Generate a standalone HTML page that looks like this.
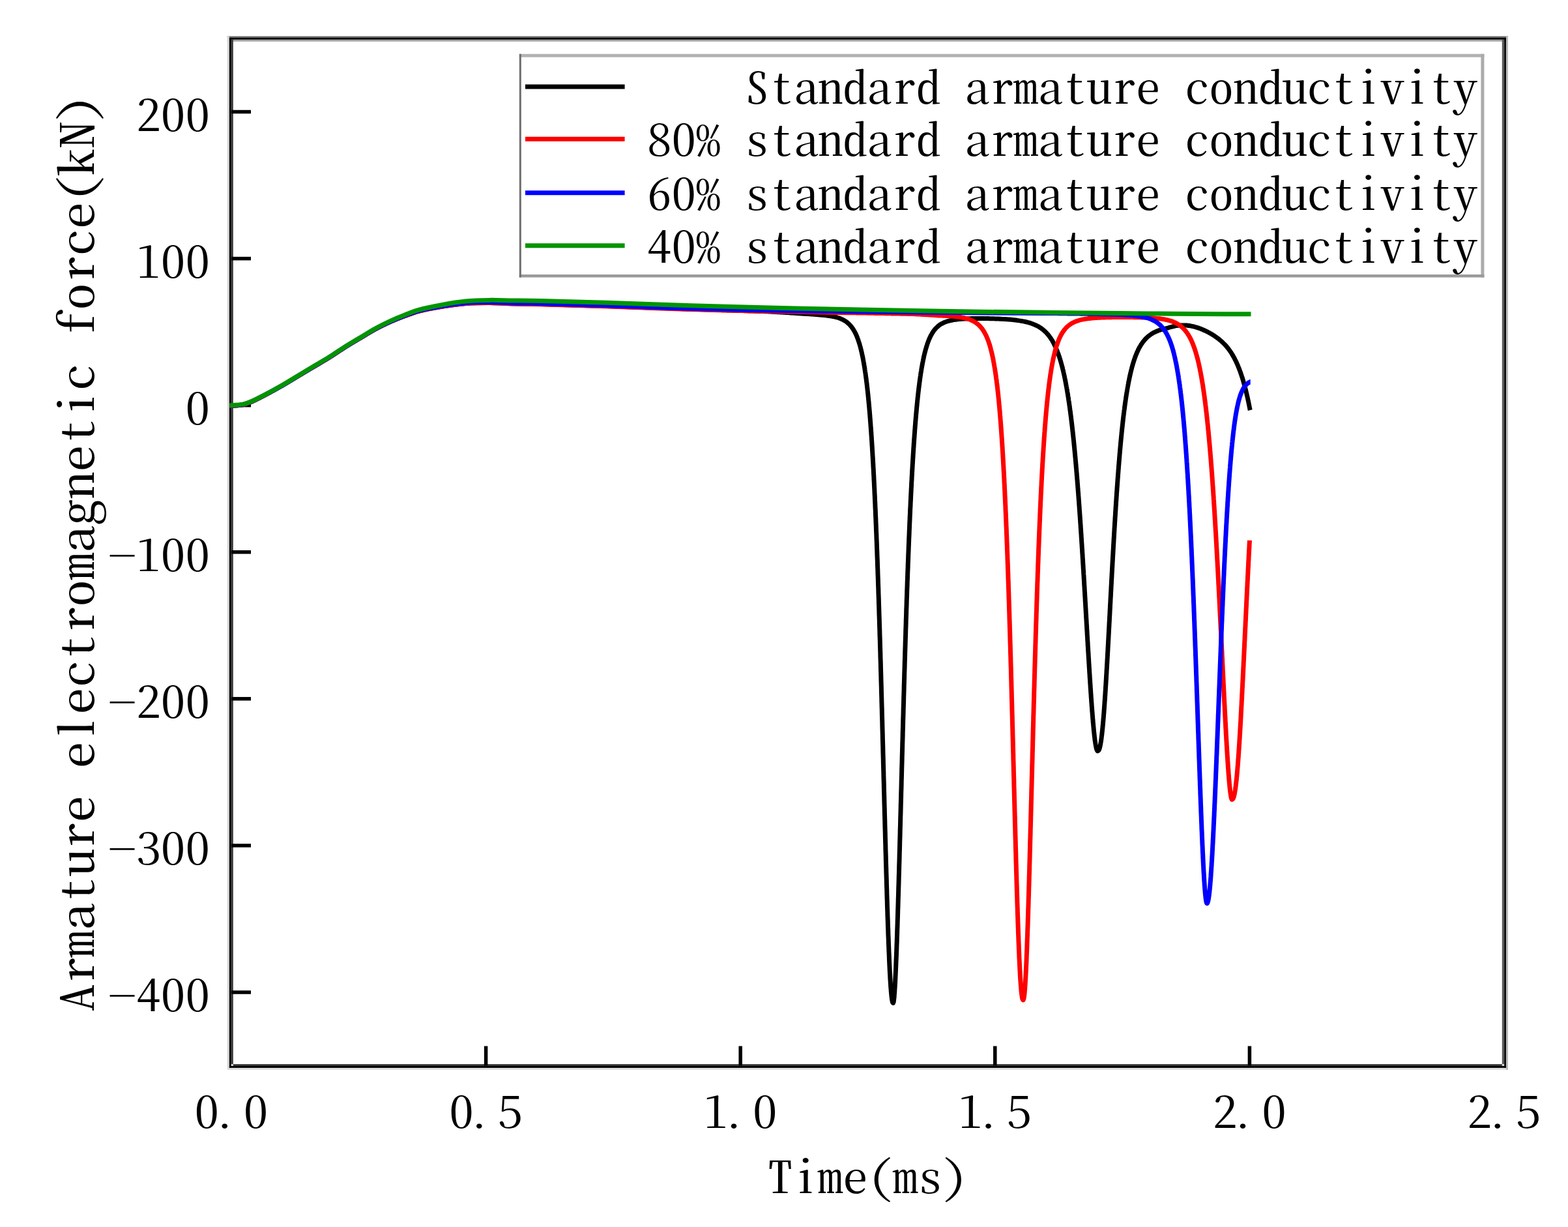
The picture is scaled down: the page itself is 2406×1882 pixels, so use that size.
<!DOCTYPE html>
<html><head><meta charset="utf-8"><title>Armature electromagnetic force</title>
<style>
html,body{margin:0;padding:0;background:#fff;overflow:hidden}
svg{display:block}
text{font-family:'Noto Serif CJK SC', 'Liberation Serif', serif;font-feature-settings:"hwid" 1;fill:#000}
</style></head><body>
<svg width="2406" height="1882" viewBox="0 0 2406 1882">
<rect x="0" y="0" width="2406" height="1882" fill="#fff"/>
<g shape-rendering="auto">
<rect x="348.8" y="55.5" width="1965.2" height="2.4" fill="#6a6a6a"/><rect x="348.8" y="60.7" width="1965.2" height="3.0" fill="#a6a6a6"/><rect x="348.8" y="55.5" width="3.1" height="1585.5" fill="#d6d6d6"/><rect x="354.7" y="60.7" width="3.1" height="1571.7" fill="#3a3a3a"/><rect x="357.8" y="1632.3" width="1947.0" height="2.5" fill="#262626"/><rect x="348.8" y="1637.9" width="1965.2" height="3.1" fill="#dedede"/><rect x="2304.8" y="60.7" width="3.4" height="1571.7" fill="#5a5a5a"/><rect x="2310.9" y="55.5" width="3.1" height="1585.5" fill="#b9b9b9"/>
<rect x="351.9" y="57.9" width="1959.0" height="2.8" fill="#000"/><rect x="351.9" y="57.9" width="2.8" height="1580.0" fill="#000"/><rect x="351.9" y="1634.8" width="1959.0" height="3.1" fill="#000"/><rect x="2308.2" y="57.9" width="2.7" height="1580.0" fill="#000"/>
</g>
<g stroke="#000" fill="none">
<line x1="355.0" y1="1522.0" x2="385.0" y2="1522.0" stroke-width="5.5"/>
<line x1="355.0" y1="1296.9" x2="385.0" y2="1296.9" stroke-width="5.5"/>
<line x1="355.0" y1="1071.8" x2="385.0" y2="1071.8" stroke-width="5.5"/>
<line x1="355.0" y1="846.8" x2="385.0" y2="846.8" stroke-width="5.5"/>
<line x1="355.0" y1="621.7" x2="385.0" y2="621.7" stroke-width="5.5"/>
<line x1="355.0" y1="396.6" x2="385.0" y2="396.6" stroke-width="5.5"/>
<line x1="355.0" y1="171.5" x2="385.0" y2="171.5" stroke-width="5.5"/>
<line x1="745.6" y1="1634.5" x2="745.6" y2="1604.5" stroke-width="5.5"/>
<line x1="1136.2" y1="1634.5" x2="1136.2" y2="1604.5" stroke-width="5.5"/>
<line x1="1526.8" y1="1634.5" x2="1526.8" y2="1604.5" stroke-width="5.5"/>
<line x1="1917.4" y1="1634.5" x2="1917.4" y2="1604.5" stroke-width="5.5"/>
</g>
<g fill="none" stroke-linejoin="round" stroke-linecap="butt" stroke-width="7.0">
<path stroke="#000" d="M352.6,622.4 C353.4,622.4 353.8,622.4 355.0,622.3 C358.3,622.1 368.3,621.7 373.8,620.5 C378.3,619.5 381.1,618.2 385.7,616.3 C392.3,613.5 401.6,608.5 409.5,604.4 C417.5,600.2 425.4,595.8 433.3,591.3 C441.3,586.7 449.2,581.8 457.1,577.0 C465.1,572.2 473.0,567.5 481.0,562.7 C488.9,558.0 496.9,553.4 504.8,548.5 C512.8,543.5 520.6,538.0 528.6,533.0 C536.5,528.1 544.5,523.4 552.4,518.7 C560.3,514.0 568.2,509.0 576.2,504.7 C584.0,500.4 592.4,496.5 600.0,493.1 C606.9,490.1 613.0,487.6 620.0,485.0 C627.4,482.3 634.6,479.4 643.3,477.1 C653.9,474.3 667.1,472.0 679.0,470.1 C690.9,468.1 702.9,466.3 714.8,465.4 C726.7,464.5 738.6,464.4 750.5,464.4 C762.4,464.5 773.7,465.4 786.2,465.7 C800.1,466.1 812.4,466.1 830.0,466.6 C856.6,467.2 894.5,468.3 930.0,469.5 C970.5,470.9 1028.5,473.2 1060.0,474.2 C1077.9,474.8 1097.0,475.3 1102.2,475.5 C1103.5,475.5 1103.7,475.5 1104.5,475.5 C1105.2,475.6 1106.0,475.6 1106.7,475.6 C1107.5,475.6 1108.2,475.6 1109.0,475.7 C1109.7,475.7 1110.5,475.7 1111.2,475.7 C1112.0,475.8 1112.7,475.8 1113.5,475.8 C1114.2,475.8 1115.0,475.9 1115.7,475.9 C1116.5,475.9 1117.2,475.9 1118.0,475.9 C1118.7,476.0 1119.5,476.0 1120.2,476.0 C1121.0,476.0 1121.7,476.1 1122.5,476.1 C1123.2,476.1 1124.0,476.1 1124.7,476.2 C1125.5,476.2 1126.2,476.2 1127.0,476.2 C1127.7,476.3 1128.5,476.3 1129.2,476.3 C1130.0,476.3 1130.7,476.3 1131.5,476.4 C1132.2,476.4 1133.0,476.4 1133.7,476.4 C1134.5,476.5 1135.2,476.5 1136.0,476.5 C1136.7,476.5 1137.5,476.6 1138.2,476.6 C1139.0,476.6 1139.7,476.6 1140.5,476.6 C1141.2,476.7 1142.0,476.7 1142.7,476.7 C1143.5,476.7 1144.2,476.8 1145.0,476.8 C1145.7,476.8 1146.5,476.8 1147.2,476.9 C1148.0,476.9 1148.7,476.9 1149.5,476.9 C1150.2,477.0 1151.0,477.0 1151.7,477.0 C1152.5,477.0 1153.2,477.0 1154.0,477.1 C1154.7,477.1 1155.4,477.1 1156.2,477.1 C1156.9,477.2 1157.7,477.2 1158.4,477.2 C1159.2,477.2 1159.9,477.3 1160.7,477.3 C1161.4,477.3 1162.2,477.3 1162.9,477.4 C1163.7,477.4 1164.4,477.4 1165.2,477.4 C1165.9,477.5 1166.7,477.5 1167.4,477.5 C1168.2,477.5 1168.9,477.6 1169.7,477.6 C1170.4,477.6 1171.2,477.6 1171.9,477.6 C1172.7,477.7 1173.4,477.7 1174.2,477.7 C1174.9,477.7 1175.7,477.8 1176.4,477.8 C1177.2,477.8 1177.9,477.8 1178.7,477.9 C1179.4,477.9 1180.2,477.9 1180.9,478.0 C1181.6,478.0 1182.3,478.0 1182.9,478.1 C1183.6,478.1 1184.3,478.2 1184.9,478.2 C1185.6,478.2 1186.3,478.3 1186.9,478.3 C1187.6,478.4 1188.3,478.4 1188.9,478.4 C1189.6,478.5 1190.2,478.5 1190.9,478.5 C1191.6,478.6 1192.2,478.6 1192.9,478.7 C1193.6,478.7 1194.2,478.7 1194.9,478.8 C1195.6,478.8 1196.2,478.9 1196.9,478.9 C1197.6,478.9 1198.2,479.0 1198.9,479.0 C1199.6,479.1 1200.2,479.1 1200.9,479.1 C1201.6,479.2 1202.2,479.2 1202.9,479.3 C1203.6,479.3 1204.2,479.3 1204.9,479.4 C1205.6,479.4 1206.2,479.5 1206.9,479.5 C1207.6,479.5 1208.2,479.6 1208.9,479.6 C1209.6,479.7 1210.2,479.7 1210.9,479.7 C1211.6,479.8 1212.2,479.8 1212.9,479.9 C1213.6,479.9 1214.2,480.0 1214.9,480.0 C1215.6,480.0 1216.2,480.1 1216.9,480.1 C1217.6,480.2 1218.2,480.2 1218.9,480.3 C1219.6,480.3 1220.2,480.3 1220.9,480.4 C1221.6,480.4 1222.2,480.5 1222.9,480.5 C1223.6,480.6 1224.2,480.6 1224.9,480.7 C1225.6,480.7 1226.2,480.8 1226.9,480.8 C1227.5,480.8 1228.2,480.9 1228.9,480.9 C1229.5,481.0 1230.2,481.0 1230.9,481.1 C1231.5,481.1 1232.2,481.1 1232.9,481.2 C1233.5,481.2 1234.2,481.2 1234.9,481.3 C1235.5,481.3 1236.2,481.4 1236.9,481.4 C1237.5,481.4 1238.2,481.5 1238.9,481.5 C1239.5,481.6 1240.2,481.6 1240.9,481.6 C1241.5,481.7 1242.2,481.7 1242.9,481.8 C1243.5,481.8 1244.2,481.9 1244.9,481.9 C1245.5,481.9 1246.2,482.0 1246.9,482.0 C1247.5,482.1 1248.2,482.1 1248.9,482.2 C1249.5,482.2 1250.2,482.3 1250.9,482.3 C1251.5,482.4 1252.2,482.4 1252.9,482.5 C1253.5,482.6 1254.2,482.6 1254.9,482.7 C1255.5,482.7 1256.2,482.8 1256.9,482.9 C1257.5,482.9 1258.2,483.0 1258.9,483.1 C1259.5,483.1 1260.2,483.2 1260.9,483.2 C1261.5,483.3 1262.2,483.3 1262.8,483.4 C1263.5,483.5 1264.2,483.5 1264.8,483.6 C1265.5,483.6 1266.2,483.7 1266.8,483.8 C1267.5,483.8 1268.2,483.9 1268.8,484.0 C1269.5,484.1 1270.2,484.2 1270.8,484.2 C1271.5,484.3 1272.2,484.4 1272.8,484.5 C1273.5,484.6 1274.2,484.7 1274.8,484.8 C1275.5,484.9 1276.2,485.0 1276.8,485.2 C1277.5,485.3 1278.2,485.4 1278.8,485.5 C1279.5,485.7 1280.2,485.8 1280.8,486.0 C1281.5,486.1 1282.2,486.3 1282.8,486.5 C1283.5,486.6 1284.2,486.8 1284.8,487.0 C1285.5,487.2 1286.2,487.4 1286.8,487.7 C1287.5,487.9 1288.2,488.1 1288.8,488.4 C1289.5,488.6 1290.2,488.9 1290.8,489.2 C1291.5,489.5 1292.2,489.8 1292.8,490.1 C1293.5,490.4 1294.2,490.8 1294.8,491.1 C1295.4,491.5 1296.0,491.8 1296.6,492.2 C1297.2,492.6 1297.7,492.9 1298.3,493.4 C1298.9,493.8 1299.5,494.2 1300.1,494.7 C1300.7,495.2 1301.3,495.7 1301.8,496.2 C1302.3,496.7 1302.8,497.1 1303.3,497.6 C1303.8,498.1 1304.3,498.7 1304.8,499.2 C1305.3,499.8 1305.8,500.4 1306.3,501.0 C1306.8,501.6 1307.1,502.1 1307.6,502.7 C1308.0,503.3 1308.4,503.9 1308.8,504.5 C1309.2,505.1 1309.7,505.8 1310.1,506.5 C1310.4,507.1 1310.7,507.6 1311.1,508.2 C1311.4,508.8 1311.7,509.5 1312.1,510.1 C1312.4,510.8 1312.7,511.4 1313.1,512.1 C1313.4,512.8 1313.7,513.6 1314.1,514.3 C1314.4,515.1 1314.7,515.9 1315.1,516.7 C1315.3,517.4 1315.6,518.0 1315.8,518.6 C1316.1,519.3 1316.3,519.9 1316.5,520.6 C1316.8,521.3 1317.1,522.0 1317.3,522.8 C1317.6,523.5 1317.8,524.3 1318.0,525.0 C1318.3,525.8 1318.6,526.6 1318.8,527.5 C1319.1,528.3 1319.3,529.1 1319.5,530.0 C1319.8,530.9 1320.1,531.8 1320.3,532.7 C1320.5,533.7 1320.8,534.8 1321.0,535.6 C1321.2,536.4 1321.4,537.0 1321.5,537.7 C1321.7,538.4 1321.9,539.1 1322.0,539.8 C1322.2,540.5 1322.4,541.2 1322.5,542.0 C1322.7,542.7 1322.9,543.5 1323.0,544.3 C1323.2,545.1 1323.4,545.9 1323.5,546.7 C1323.7,547.5 1323.9,548.3 1324.0,549.2 C1324.2,550.0 1324.4,550.9 1324.5,551.8 C1324.7,552.7 1324.9,553.6 1325.0,554.5 C1325.2,555.4 1325.4,556.3 1325.5,557.3 C1325.7,558.3 1325.9,559.2 1326.0,560.2 C1326.2,561.2 1326.4,562.2 1326.5,563.3 C1326.7,564.3 1326.9,565.4 1327.0,566.5 C1327.2,567.6 1327.4,568.7 1327.5,569.8 C1327.7,570.9 1327.9,572.1 1328.0,573.2 C1328.2,574.4 1328.4,575.6 1328.5,576.9 C1328.7,578.1 1328.9,579.3 1329.0,580.6 C1329.2,581.9 1329.4,583.4 1329.5,584.5 C1329.6,585.3 1329.7,585.9 1329.8,586.5 C1329.9,587.2 1330.0,587.9 1330.0,588.6 C1330.1,589.3 1330.2,590.0 1330.3,590.7 C1330.4,591.4 1330.5,592.1 1330.5,592.9 C1330.6,593.6 1330.7,594.3 1330.8,595.0 C1330.9,595.8 1331.0,596.5 1331.0,597.3 C1331.1,598.0 1331.2,598.8 1331.3,599.6 C1331.4,600.3 1331.5,601.1 1331.5,601.9 C1331.6,602.7 1331.7,603.5 1331.8,604.3 C1331.9,605.1 1332.0,605.9 1332.0,606.7 C1332.1,607.5 1332.2,608.4 1332.3,609.2 C1332.4,610.0 1332.5,610.9 1332.5,611.7 C1332.6,612.6 1332.7,613.4 1332.8,614.3 C1332.9,615.2 1333.0,616.0 1333.0,616.9 C1333.1,617.8 1333.2,618.7 1333.3,619.6 C1333.4,620.5 1333.5,621.4 1333.5,622.3 C1333.6,623.3 1333.7,624.2 1333.8,625.1 C1333.9,626.1 1334.0,627.0 1334.0,628.0 C1334.1,629.0 1334.2,629.9 1334.3,630.9 C1334.4,631.9 1334.5,632.9 1334.5,633.9 C1334.6,634.9 1334.7,635.9 1334.8,636.9 C1334.9,637.9 1334.9,639.0 1335.0,640.0 C1335.1,641.1 1335.2,642.1 1335.3,643.2 C1335.4,644.2 1335.4,645.3 1335.5,646.4 C1335.6,647.5 1335.7,648.6 1335.8,649.7 C1335.9,650.8 1335.9,651.9 1336.0,653.0 C1336.1,654.1 1336.2,655.3 1336.3,656.4 C1336.4,657.6 1336.4,658.7 1336.5,659.9 C1336.6,661.1 1336.7,662.3 1336.8,663.4 C1336.9,664.7 1336.9,665.9 1337.0,667.1 C1337.1,668.3 1337.2,669.5 1337.3,670.8 C1337.4,672.0 1337.4,673.3 1337.5,674.5 C1337.6,675.8 1337.7,677.1 1337.8,678.4 C1337.9,679.7 1337.9,681.0 1338.0,682.3 C1338.1,683.6 1338.2,684.9 1338.3,686.3 C1338.4,687.6 1338.4,689.0 1338.5,690.3 C1338.6,691.7 1338.7,693.1 1338.8,694.5 C1338.9,695.9 1338.9,697.3 1339.0,698.7 C1339.1,700.1 1339.2,701.5 1339.3,703.0 C1339.4,704.4 1339.4,705.9 1339.5,707.4 C1339.6,708.8 1339.7,710.3 1339.8,711.8 C1339.9,713.3 1339.9,714.8 1340.0,716.4 C1340.1,717.9 1340.2,719.4 1340.3,721.0 C1340.4,722.6 1340.4,724.1 1340.5,725.7 C1340.6,727.3 1340.7,728.9 1340.8,730.5 C1340.9,732.1 1340.9,733.8 1341.0,735.4 C1341.1,737.1 1341.2,738.7 1341.3,740.4 C1341.4,742.1 1341.4,743.8 1341.5,745.5 C1341.6,747.2 1341.7,748.9 1341.8,750.6 C1341.9,752.3 1341.9,754.1 1342.0,755.9 C1342.1,757.6 1342.2,759.4 1342.3,761.2 C1342.4,763.0 1342.4,764.8 1342.5,766.6 C1342.6,768.5 1342.7,770.3 1342.8,772.2 C1342.9,774.0 1342.9,775.9 1343.0,777.8 C1343.1,779.7 1343.2,781.6 1343.3,783.5 C1343.4,785.4 1343.4,787.4 1343.5,789.3 C1343.6,791.3 1343.7,793.2 1343.8,795.2 C1343.9,797.2 1343.9,799.2 1344.0,801.2 C1344.1,803.2 1344.2,805.3 1344.3,807.3 C1344.4,809.4 1344.4,811.5 1344.5,813.5 C1344.6,815.6 1344.7,817.7 1344.8,819.8 C1344.9,822.0 1344.9,824.1 1345.0,826.2 C1345.1,828.4 1345.2,830.6 1345.3,832.7 C1345.4,834.9 1345.4,837.1 1345.5,839.3 C1345.6,841.5 1345.7,843.8 1345.8,846.0 C1345.9,848.3 1345.9,850.5 1346.0,852.8 C1346.1,855.1 1346.2,857.4 1346.3,859.7 C1346.4,862.0 1346.4,864.4 1346.5,866.7 C1346.6,869.1 1346.7,871.4 1346.8,873.8 C1346.9,876.2 1346.9,878.6 1347.0,881.0 C1347.1,883.4 1347.2,885.9 1347.3,888.3 C1347.4,890.8 1347.4,893.2 1347.5,895.7 C1347.6,898.2 1347.7,900.7 1347.8,903.2 C1347.9,905.7 1347.9,908.2 1348.0,910.8 C1348.1,913.3 1348.2,915.9 1348.3,918.4 C1348.4,921.0 1348.4,923.6 1348.5,926.2 C1348.6,928.8 1348.7,931.5 1348.8,934.1 C1348.9,936.7 1348.9,939.4 1349.0,942.1 C1349.1,944.7 1349.2,947.4 1349.3,950.1 C1349.4,952.8 1349.4,955.5 1349.5,958.3 C1349.6,961.0 1349.7,963.8 1349.8,966.5 C1349.9,969.3 1349.9,972.1 1350.0,974.8 C1350.1,977.6 1350.2,980.4 1350.3,983.2 C1350.4,986.1 1350.4,988.9 1350.5,991.7 C1350.6,994.6 1350.7,997.5 1350.8,1000.3 C1350.9,1003.2 1350.9,1006.1 1351.0,1009.0 C1351.1,1011.9 1351.2,1014.8 1351.3,1017.7 C1351.4,1020.6 1351.4,1023.6 1351.5,1026.5 C1351.6,1029.5 1351.7,1032.4 1351.8,1035.4 C1351.9,1038.4 1351.9,1041.3 1352.0,1044.3 C1352.1,1047.3 1352.2,1050.3 1352.3,1053.3 C1352.4,1056.4 1352.4,1059.4 1352.5,1062.4 C1352.6,1065.5 1352.7,1068.5 1352.8,1071.6 C1352.8,1074.6 1352.9,1077.7 1353.0,1080.7 C1353.1,1083.8 1353.2,1086.9 1353.3,1090.0 C1353.3,1093.1 1353.4,1096.2 1353.5,1099.3 C1353.6,1102.4 1353.7,1105.5 1353.8,1108.6 C1353.8,1111.7 1353.9,1114.9 1354.0,1118.0 C1354.1,1121.1 1354.2,1124.2 1354.3,1127.4 C1354.3,1130.5 1354.4,1133.7 1354.5,1136.8 C1354.6,1140.0 1354.7,1143.1 1354.8,1146.3 C1354.8,1149.5 1354.9,1152.6 1355.0,1155.8 C1355.1,1158.9 1355.2,1162.1 1355.3,1165.3 C1355.3,1168.5 1355.4,1171.6 1355.5,1174.8 C1355.6,1178.0 1355.7,1181.1 1355.8,1184.3 C1355.8,1187.5 1355.9,1190.7 1356.0,1193.8 C1356.1,1197.0 1356.2,1200.2 1356.3,1203.3 C1356.3,1206.5 1356.4,1209.7 1356.5,1212.9 C1356.6,1216.0 1356.7,1219.2 1356.8,1222.3 C1356.8,1225.5 1356.9,1228.6 1357.0,1231.8 C1357.1,1234.9 1357.2,1238.1 1357.3,1241.2 C1357.3,1244.4 1357.4,1247.5 1357.5,1250.6 C1357.6,1253.8 1357.7,1256.9 1357.8,1260.0 C1357.8,1263.1 1357.9,1266.2 1358.0,1269.3 C1358.1,1272.4 1358.2,1275.5 1358.3,1278.6 C1358.3,1281.6 1358.4,1284.7 1358.5,1287.7 C1358.6,1290.8 1358.7,1293.8 1358.8,1296.9 C1358.8,1299.9 1358.9,1302.9 1359.0,1305.9 C1359.1,1308.9 1359.2,1311.9 1359.3,1314.9 C1359.3,1317.9 1359.4,1320.8 1359.5,1323.8 C1359.6,1326.7 1359.7,1329.6 1359.8,1332.5 C1359.8,1335.5 1359.9,1338.3 1360.0,1341.2 C1360.1,1344.1 1360.2,1347.0 1360.3,1349.8 C1360.3,1352.6 1360.4,1355.5 1360.5,1358.3 C1360.6,1361.0 1360.7,1363.8 1360.8,1366.6 C1360.8,1369.3 1360.9,1372.1 1361.0,1374.8 C1361.1,1377.5 1361.2,1380.2 1361.3,1382.9 C1361.3,1385.5 1361.4,1388.2 1361.5,1390.8 C1361.6,1393.4 1361.7,1396.0 1361.8,1398.6 C1361.8,1401.1 1361.9,1403.6 1362.0,1406.2 C1362.1,1408.7 1362.2,1411.2 1362.3,1413.6 C1362.3,1416.1 1362.4,1418.5 1362.5,1420.9 C1362.6,1423.3 1362.7,1425.7 1362.8,1428.0 C1362.8,1430.3 1362.9,1432.6 1363.0,1434.9 C1363.1,1437.2 1363.2,1439.4 1363.3,1441.7 C1363.3,1443.9 1363.4,1446.1 1363.5,1448.2 C1363.6,1450.4 1363.7,1452.5 1363.8,1454.6 C1363.8,1456.6 1363.9,1458.7 1364.0,1460.7 C1364.1,1462.7 1364.2,1464.7 1364.3,1466.6 C1364.3,1468.5 1364.4,1470.8 1364.5,1472.2 C1364.5,1473.1 1364.6,1473.7 1364.6,1474.5 C1364.6,1475.2 1364.7,1475.9 1364.7,1476.7 C1364.7,1477.4 1364.8,1478.1 1364.8,1478.8 C1364.8,1479.5 1364.9,1480.2 1364.9,1480.9 C1364.9,1481.6 1365.0,1482.3 1365.0,1483.0 C1365.0,1483.7 1365.1,1484.4 1365.1,1485.1 C1365.1,1485.8 1365.2,1486.4 1365.2,1487.1 C1365.2,1487.9 1365.3,1488.7 1365.3,1489.5 C1365.4,1490.2 1365.4,1491.0 1365.4,1491.8 C1365.5,1492.5 1365.5,1493.3 1365.6,1494.0 C1365.6,1494.8 1365.6,1495.5 1365.7,1496.2 C1365.7,1497.0 1365.8,1497.7 1365.8,1498.4 C1365.8,1499.1 1365.9,1499.8 1365.9,1500.5 C1366.0,1501.2 1366.0,1501.8 1366.0,1502.5 C1366.1,1503.3 1366.1,1504.1 1366.2,1504.9 C1366.2,1505.6 1366.3,1506.3 1366.3,1507.1 C1366.4,1507.8 1366.4,1508.5 1366.5,1509.2 C1366.5,1509.9 1366.6,1510.6 1366.6,1511.3 C1366.6,1512.0 1366.7,1512.7 1366.7,1513.3 C1366.8,1514.1 1366.8,1514.8 1366.9,1515.5 C1367.0,1516.2 1367.0,1516.9 1367.1,1517.6 C1367.1,1518.3 1367.2,1519.0 1367.2,1519.6 C1367.3,1520.3 1367.3,1521.1 1367.4,1521.8 C1367.5,1522.4 1367.5,1523.1 1367.6,1523.7 C1367.6,1524.4 1367.7,1525.1 1367.8,1525.8 C1367.9,1526.5 1367.9,1527.2 1368.0,1527.9 C1368.1,1528.6 1368.2,1529.3 1368.2,1530.0 C1368.3,1530.6 1368.4,1531.3 1368.5,1531.9 C1368.6,1532.6 1368.7,1533.3 1368.8,1534.0 C1368.9,1534.7 1369.1,1535.3 1369.2,1536.0 C1369.4,1536.7 1369.5,1537.5 1369.8,1537.9 C1370.0,1538.2 1370.3,1538.6 1370.5,1538.6 C1370.8,1538.5 1371.0,1537.4 1371.2,1536.7 C1371.3,1536.0 1371.4,1535.3 1371.5,1534.6 C1371.6,1533.9 1371.7,1533.2 1371.7,1532.5 C1371.8,1531.8 1371.9,1531.1 1372.0,1530.4 C1372.0,1529.6 1372.1,1528.9 1372.2,1528.2 C1372.2,1527.5 1372.3,1526.7 1372.3,1526.0 C1372.4,1525.4 1372.4,1524.7 1372.5,1524.0 C1372.6,1523.3 1372.6,1522.5 1372.7,1521.8 C1372.7,1521.1 1372.8,1520.5 1372.8,1519.8 C1372.8,1519.1 1372.9,1518.4 1372.9,1517.6 C1373.0,1516.9 1373.0,1516.2 1373.1,1515.4 C1373.1,1514.7 1373.2,1513.9 1373.2,1513.1 C1373.3,1512.4 1373.3,1511.7 1373.3,1511.1 C1373.4,1510.4 1373.4,1509.6 1373.5,1508.9 C1373.5,1508.2 1373.5,1507.5 1373.6,1506.7 C1373.6,1506.0 1373.7,1505.2 1373.7,1504.5 C1373.7,1503.7 1373.8,1502.9 1373.8,1502.2 C1373.9,1501.4 1373.9,1500.5 1373.9,1499.8 C1374.0,1499.1 1374.0,1498.4 1374.0,1497.7 C1374.1,1497.0 1374.1,1496.4 1374.1,1495.7 C1374.2,1495.0 1374.2,1494.2 1374.2,1493.5 C1374.3,1492.8 1374.3,1492.1 1374.3,1491.4 C1374.4,1490.6 1374.4,1489.9 1374.4,1489.2 C1374.5,1488.4 1374.5,1487.7 1374.5,1486.9 C1374.6,1486.2 1374.6,1485.4 1374.6,1484.6 C1374.7,1483.9 1374.7,1483.1 1374.7,1482.3 C1374.8,1481.5 1374.8,1480.8 1374.8,1480.0 C1374.9,1479.2 1374.9,1478.4 1374.9,1477.6 C1375.0,1476.8 1375.0,1475.9 1375.0,1475.1 C1375.1,1474.3 1375.1,1473.4 1375.1,1472.7 C1375.2,1472.0 1375.2,1471.3 1375.2,1470.7 C1375.2,1470.0 1375.3,1469.3 1375.3,1468.6 C1375.3,1467.9 1375.4,1467.3 1375.4,1466.6 C1375.4,1465.9 1375.4,1465.2 1375.5,1464.5 C1375.5,1463.8 1375.5,1463.1 1375.5,1462.4 C1375.6,1461.7 1375.6,1461.0 1375.6,1460.3 C1375.6,1459.6 1375.7,1458.9 1375.7,1458.2 C1375.7,1457.4 1375.8,1456.7 1375.8,1456.0 C1375.8,1455.3 1375.8,1454.6 1375.9,1453.8 C1375.9,1453.1 1375.9,1452.4 1375.9,1451.6 C1376.0,1450.9 1376.0,1450.1 1376.0,1449.4 C1376.0,1448.7 1376.1,1447.9 1376.1,1447.2 C1376.1,1446.4 1376.2,1445.7 1376.2,1444.9 C1376.2,1444.2 1376.2,1443.4 1376.3,1442.6 C1376.3,1441.9 1376.3,1441.1 1376.3,1440.3 C1376.4,1439.6 1376.4,1438.8 1376.4,1438.0 C1376.4,1437.3 1376.5,1436.8 1376.5,1435.8 C1376.6,1434.0 1376.7,1430.9 1376.7,1428.4 C1376.8,1425.9 1376.9,1423.4 1377.0,1420.8 C1377.1,1418.2 1377.2,1415.7 1377.2,1413.1 C1377.3,1410.5 1377.4,1407.8 1377.5,1405.2 C1377.6,1402.5 1377.7,1399.8 1377.7,1397.1 C1377.8,1394.4 1377.9,1391.7 1378.0,1389.0 C1378.1,1386.2 1378.2,1383.4 1378.2,1380.7 C1378.3,1377.9 1378.4,1375.1 1378.5,1372.2 C1378.6,1369.4 1378.7,1366.6 1378.7,1363.7 C1378.8,1360.8 1378.9,1357.9 1379.0,1355.1 C1379.1,1352.1 1379.2,1349.2 1379.2,1346.3 C1379.3,1343.4 1379.4,1340.4 1379.5,1337.5 C1379.6,1334.5 1379.7,1331.5 1379.7,1328.6 C1379.8,1325.6 1379.9,1322.6 1380.0,1319.6 C1380.1,1316.5 1380.2,1313.5 1380.2,1310.5 C1380.3,1307.5 1380.4,1304.4 1380.5,1301.4 C1380.6,1298.3 1380.7,1295.2 1380.7,1292.2 C1380.8,1289.1 1380.9,1286.0 1381.0,1283.0 C1381.1,1279.9 1381.2,1276.8 1381.2,1273.7 C1381.3,1270.6 1381.4,1267.5 1381.5,1264.4 C1381.6,1261.3 1381.7,1258.1 1381.7,1255.0 C1381.8,1251.9 1381.9,1248.8 1382.0,1245.7 C1382.1,1242.5 1382.2,1239.4 1382.2,1236.3 C1382.3,1233.1 1382.4,1230.0 1382.5,1226.9 C1382.6,1223.7 1382.7,1220.6 1382.7,1217.5 C1382.8,1214.3 1382.9,1211.2 1383.0,1208.1 C1383.1,1204.9 1383.2,1201.8 1383.2,1198.7 C1383.3,1195.5 1383.4,1192.4 1383.5,1189.3 C1383.6,1186.1 1383.7,1183.0 1383.7,1179.9 C1383.8,1176.8 1383.9,1173.7 1384.0,1170.5 C1384.1,1167.4 1384.2,1164.3 1384.2,1161.2 C1384.3,1158.1 1384.4,1155.0 1384.5,1151.9 C1384.6,1148.8 1384.7,1145.7 1384.7,1142.6 C1384.8,1139.5 1384.9,1136.4 1385.0,1133.4 C1385.1,1130.3 1385.2,1127.2 1385.2,1124.2 C1385.3,1121.1 1385.4,1118.0 1385.5,1115.0 C1385.6,1111.9 1385.7,1108.9 1385.7,1105.9 C1385.8,1102.8 1385.9,1099.8 1386.0,1096.8 C1386.1,1093.8 1386.2,1090.8 1386.2,1087.8 C1386.3,1084.8 1386.4,1081.8 1386.5,1078.8 C1386.6,1075.9 1386.7,1072.9 1386.7,1069.9 C1386.8,1067.0 1386.9,1064.0 1387.0,1061.1 C1387.1,1058.2 1387.2,1055.3 1387.2,1052.3 C1387.3,1049.4 1387.4,1046.5 1387.5,1043.6 C1387.6,1040.7 1387.7,1037.9 1387.7,1035.0 C1387.8,1032.1 1387.9,1029.3 1388.0,1026.4 C1388.1,1023.6 1388.2,1020.8 1388.2,1017.9 C1388.3,1015.1 1388.4,1012.3 1388.5,1009.5 C1388.6,1006.7 1388.7,1004.0 1388.7,1001.2 C1388.8,998.4 1388.9,995.7 1389.0,992.9 C1389.1,990.2 1389.2,987.5 1389.2,984.8 C1389.3,982.1 1389.4,979.4 1389.5,976.7 C1389.6,974.0 1389.7,971.3 1389.7,968.7 C1389.8,966.0 1389.9,963.4 1390.0,960.8 C1390.1,958.1 1390.2,955.5 1390.2,952.9 C1390.3,950.3 1390.4,947.7 1390.5,945.2 C1390.6,942.6 1390.7,940.1 1390.7,937.5 C1390.8,935.0 1390.9,932.5 1391.0,929.9 C1391.1,927.4 1391.2,924.9 1391.2,922.5 C1391.3,920.0 1391.4,917.5 1391.5,915.1 C1391.6,912.6 1391.7,910.2 1391.7,907.8 C1391.8,905.4 1391.9,903.0 1392.0,900.6 C1392.1,898.2 1392.2,895.8 1392.2,893.4 C1392.3,891.1 1392.4,888.8 1392.5,886.4 C1392.6,884.1 1392.7,881.8 1392.7,879.5 C1392.8,877.2 1392.9,874.9 1393.0,872.6 C1393.1,870.4 1393.2,868.1 1393.2,865.9 C1393.3,863.7 1393.4,861.5 1393.5,859.2 C1393.6,857.1 1393.7,854.9 1393.7,852.7 C1393.8,850.5 1393.9,848.4 1394.0,846.2 C1394.1,844.1 1394.2,842.0 1394.2,839.8 C1394.3,837.7 1394.4,835.6 1394.5,833.6 C1394.6,831.5 1394.7,829.4 1394.7,827.4 C1394.8,825.3 1394.9,823.3 1395.0,821.3 C1395.1,819.3 1395.2,817.3 1395.2,815.3 C1395.3,813.3 1395.4,811.3 1395.5,809.3 C1395.6,807.4 1395.7,805.4 1395.7,803.5 C1395.8,801.6 1395.9,799.7 1396.0,797.8 C1396.1,795.9 1396.1,794.0 1396.2,792.1 C1396.3,790.3 1396.4,788.4 1396.5,786.6 C1396.6,784.7 1396.6,782.9 1396.7,781.1 C1396.8,779.3 1396.9,777.5 1397.0,775.7 C1397.1,773.9 1397.1,772.2 1397.2,770.4 C1397.3,768.7 1397.4,766.9 1397.5,765.2 C1397.6,763.5 1397.6,761.8 1397.7,760.1 C1397.8,758.4 1397.9,756.7 1398.0,755.0 C1398.1,753.4 1398.1,751.7 1398.2,750.1 C1398.3,748.4 1398.4,746.8 1398.5,745.2 C1398.6,743.6 1398.6,742.0 1398.7,740.4 C1398.8,738.8 1398.9,737.2 1399.0,735.7 C1399.1,734.1 1399.1,732.6 1399.2,731.0 C1399.3,729.5 1399.4,728.0 1399.5,726.5 C1399.6,725.0 1399.6,723.5 1399.7,722.0 C1399.8,720.5 1399.9,719.1 1400.0,717.6 C1400.1,716.2 1400.1,714.7 1400.2,713.3 C1400.3,711.9 1400.4,710.4 1400.5,709.0 C1400.6,707.6 1400.6,706.2 1400.7,704.9 C1400.8,703.5 1400.9,702.1 1401.0,700.8 C1401.1,699.4 1401.1,698.1 1401.2,696.7 C1401.3,695.4 1401.4,694.1 1401.5,692.8 C1401.6,691.5 1401.6,690.2 1401.7,688.9 C1401.8,687.6 1401.9,686.3 1402.0,685.1 C1402.1,683.8 1402.1,682.6 1402.2,681.3 C1402.3,680.1 1402.4,678.9 1402.5,677.7 C1402.6,676.4 1402.6,675.2 1402.7,674.0 C1402.8,672.9 1402.9,671.7 1403.0,670.5 C1403.1,669.3 1403.1,668.2 1403.2,667.0 C1403.3,665.9 1403.4,664.7 1403.5,663.6 C1403.6,662.5 1403.6,661.4 1403.7,660.2 C1403.8,659.1 1403.9,658.0 1404.0,657.0 C1404.1,655.9 1404.1,654.8 1404.2,653.7 C1404.3,652.7 1404.4,651.6 1404.5,650.6 C1404.6,649.5 1404.6,648.5 1404.7,647.4 C1404.8,646.4 1404.9,645.4 1405.0,644.4 C1405.1,643.4 1405.1,642.4 1405.2,641.4 C1405.3,640.4 1405.4,639.4 1405.5,638.5 C1405.6,637.5 1405.6,636.5 1405.7,635.6 C1405.8,634.6 1405.9,633.7 1406.0,632.7 C1406.1,631.8 1406.1,630.9 1406.2,630.0 C1406.3,629.1 1406.4,628.1 1406.5,627.2 C1406.6,626.3 1406.6,625.5 1406.7,624.6 C1406.8,623.7 1406.9,622.8 1407.0,622.0 C1407.1,621.1 1407.1,620.2 1407.2,619.4 C1407.3,618.5 1407.4,617.7 1407.5,616.9 C1407.6,616.0 1407.6,615.2 1407.7,614.4 C1407.8,613.6 1407.9,612.8 1408.0,612.0 C1408.1,611.2 1408.1,610.4 1408.2,609.6 C1408.3,608.8 1408.4,608.0 1408.5,607.3 C1408.6,606.5 1408.6,605.7 1408.7,605.0 C1408.8,604.2 1408.9,603.5 1409.0,602.7 C1409.1,602.0 1409.1,601.3 1409.2,600.5 C1409.3,599.8 1409.4,599.1 1409.5,598.4 C1409.6,597.7 1409.6,597.0 1409.7,596.3 C1409.8,595.6 1409.9,594.9 1410.0,594.2 C1410.1,593.5 1410.1,592.8 1410.2,592.2 C1410.3,591.5 1410.4,590.9 1410.5,590.2 C1410.6,589.1 1410.8,587.6 1411.0,586.3 C1411.1,585.0 1411.3,583.8 1411.5,582.6 C1411.6,581.4 1411.8,580.2 1412.0,579.0 C1412.1,577.8 1412.3,576.7 1412.5,575.6 C1412.6,574.4 1412.8,573.3 1413.0,572.2 C1413.1,571.2 1413.3,570.1 1413.5,569.1 C1413.6,568.0 1413.8,567.0 1414.0,566.0 C1414.1,565.0 1414.3,564.1 1414.5,563.1 C1414.6,562.1 1414.8,561.2 1415.0,560.3 C1415.1,559.4 1415.3,558.5 1415.5,557.6 C1415.6,556.7 1415.8,555.8 1416.0,555.0 C1416.1,554.1 1416.3,553.3 1416.5,552.5 C1416.6,551.6 1416.8,550.8 1417.0,550.1 C1417.1,549.3 1417.3,548.5 1417.5,547.7 C1417.6,547.0 1417.8,546.3 1418.0,545.5 C1418.1,544.8 1418.3,544.1 1418.5,543.4 C1418.6,542.7 1418.8,542.0 1419.0,541.3 C1419.1,540.7 1419.3,540.1 1419.5,539.4 C1419.7,538.5 1420.0,537.5 1420.2,536.6 C1420.5,535.7 1420.7,534.8 1421.0,533.9 C1421.2,533.1 1421.5,532.2 1421.7,531.4 C1422.0,530.6 1422.2,529.8 1422.5,529.1 C1422.7,528.3 1423.0,527.6 1423.2,526.8 C1423.5,526.1 1423.7,525.4 1424.0,524.8 C1424.2,524.1 1424.5,523.4 1424.7,522.8 C1425.0,522.2 1425.2,521.6 1425.5,520.9 C1425.8,520.2 1426.1,519.4 1426.5,518.6 C1426.8,517.9 1427.1,517.2 1427.5,516.5 C1427.8,515.8 1428.1,515.1 1428.5,514.5 C1428.8,513.9 1429.1,513.3 1429.5,512.7 C1429.8,512.0 1430.3,511.2 1430.7,510.6 C1431.1,509.9 1431.5,509.3 1432.0,508.6 C1432.4,508.0 1432.8,507.5 1433.2,506.9 C1433.6,506.4 1434.0,505.9 1434.5,505.3 C1434.9,504.8 1435.5,504.2 1436.0,503.6 C1436.5,503.1 1437.0,502.6 1437.5,502.1 C1438.0,501.6 1438.4,501.2 1439.0,500.7 C1439.5,500.2 1440.1,499.7 1440.7,499.3 C1441.3,498.8 1441.9,498.4 1442.5,498.0 C1443.0,497.6 1443.6,497.3 1444.2,496.9 C1444.8,496.6 1445.3,496.3 1446.0,496.0 C1446.6,495.6 1447.3,495.3 1448.0,495.0 C1448.6,494.7 1449.3,494.4 1449.9,494.1 C1450.6,493.9 1451.3,493.6 1451.9,493.4 C1452.6,493.2 1453.3,492.9 1453.9,492.7 C1454.6,492.5 1455.3,492.4 1455.9,492.2 C1456.6,492.0 1457.3,491.8 1457.9,491.7 C1458.6,491.5 1459.3,491.4 1459.9,491.3 C1460.6,491.1 1461.3,491.0 1461.9,490.9 C1462.6,490.8 1463.3,490.7 1463.9,490.5 C1464.6,490.4 1465.3,490.3 1465.9,490.3 C1466.6,490.2 1467.3,490.1 1467.9,490.0 C1468.6,489.9 1469.3,489.8 1469.9,489.8 C1470.6,489.7 1471.3,489.6 1471.9,489.6 C1472.6,489.5 1473.3,489.5 1473.9,489.4 C1474.6,489.4 1475.3,489.3 1475.9,489.3 C1476.6,489.2 1477.3,489.2 1477.9,489.1 C1478.6,489.1 1479.3,489.0 1479.9,489.0 C1480.6,489.0 1481.3,488.9 1481.9,488.9 C1482.6,488.9 1483.3,488.9 1483.9,488.8 C1484.6,488.8 1485.2,488.8 1485.9,488.8 C1486.7,488.7 1487.4,488.7 1488.2,488.7 C1488.9,488.7 1489.7,488.6 1490.4,488.6 C1491.2,488.6 1491.9,488.6 1492.7,488.6 C1493.4,488.6 1494.2,488.6 1494.9,488.5 C1495.7,488.5 1496.4,488.5 1497.2,488.5 C1497.9,488.5 1498.7,488.5 1499.4,488.5 C1500.2,488.5 1500.9,488.5 1501.7,488.5 C1502.4,488.5 1503.2,488.5 1503.9,488.5 C1504.7,488.5 1505.4,488.5 1506.2,488.5 C1506.9,488.5 1507.7,488.5 1508.4,488.5 C1509.2,488.5 1509.9,488.5 1510.7,488.5 C1511.4,488.5 1512.2,488.5 1512.9,488.6 C1513.7,488.6 1514.4,488.6 1515.2,488.6 C1515.9,488.6 1516.7,488.6 1517.4,488.6 C1518.2,488.6 1518.9,488.7 1519.7,488.7 C1520.4,488.7 1521.2,488.7 1521.9,488.7 C1522.7,488.7 1523.4,488.8 1524.2,488.8 C1524.9,488.8 1525.7,488.8 1526.4,488.9 C1527.2,488.9 1527.9,488.9 1528.6,488.9 C1529.3,489.0 1530.0,489.0 1530.6,489.0 C1531.3,489.0 1532.0,489.1 1532.6,489.1 C1533.3,489.1 1534.0,489.1 1534.6,489.2 C1535.3,489.2 1536.0,489.2 1536.6,489.3 C1537.3,489.3 1538.0,489.3 1538.6,489.4 C1539.3,489.4 1540.0,489.4 1540.6,489.5 C1541.3,489.5 1542.0,489.6 1542.6,489.6 C1543.3,489.6 1544.0,489.7 1544.6,489.7 C1545.3,489.8 1546.0,489.8 1546.6,489.9 C1547.3,489.9 1548.0,490.0 1548.6,490.0 C1549.3,490.1 1550.0,490.1 1550.6,490.2 C1551.3,490.3 1552.0,490.3 1552.6,490.4 C1553.3,490.5 1554.0,490.5 1554.6,490.6 C1555.3,490.7 1556.0,490.7 1556.6,490.8 C1557.3,490.9 1558.0,491.0 1558.6,491.0 C1559.3,491.1 1560.0,491.2 1560.6,491.3 C1561.3,491.4 1562.0,491.5 1562.6,491.6 C1563.3,491.7 1564.0,491.8 1564.6,491.9 C1565.3,492.0 1566.0,492.1 1566.6,492.2 C1567.3,492.3 1568.0,492.4 1568.6,492.5 C1569.3,492.7 1570.0,492.8 1570.6,492.9 C1571.3,493.1 1572.0,493.2 1572.6,493.3 C1573.3,493.5 1574.0,493.6 1574.6,493.8 C1575.3,494.0 1576.0,494.1 1576.6,494.3 C1577.3,494.5 1578.0,494.7 1578.6,494.8 C1579.3,495.0 1580.0,495.2 1580.6,495.4 C1581.3,495.6 1582.0,495.9 1582.6,496.1 C1583.3,496.3 1583.9,496.6 1584.6,496.8 C1585.3,497.1 1585.9,497.3 1586.6,497.6 C1587.3,497.9 1587.9,498.2 1588.6,498.5 C1589.3,498.8 1589.9,499.1 1590.6,499.4 C1591.3,499.7 1592.0,500.1 1592.6,500.4 C1593.2,500.8 1593.8,501.1 1594.4,501.4 C1594.9,501.8 1595.5,502.2 1596.1,502.5 C1596.7,502.9 1597.3,503.3 1597.9,503.7 C1598.4,504.1 1599.0,504.6 1599.6,505.0 C1600.2,505.5 1600.8,505.9 1601.4,506.4 C1601.9,506.9 1602.5,507.5 1603.1,508.0 C1603.6,508.4 1604.1,508.9 1604.6,509.4 C1605.1,509.9 1605.6,510.4 1606.1,511.0 C1606.6,511.5 1607.1,512.1 1607.6,512.6 C1608.1,513.2 1608.6,513.9 1609.1,514.4 C1609.5,515.0 1609.9,515.5 1610.3,516.1 C1610.8,516.6 1611.2,517.2 1611.6,517.8 C1612.0,518.4 1612.4,519.0 1612.8,519.7 C1613.3,520.3 1613.7,521.0 1614.1,521.6 C1614.5,522.3 1615.0,523.1 1615.3,523.8 C1615.7,524.4 1616.0,525.0 1616.3,525.6 C1616.7,526.2 1617.0,526.8 1617.3,527.5 C1617.7,528.1 1618.0,528.8 1618.3,529.5 C1618.7,530.2 1619.0,530.9 1619.3,531.6 C1619.7,532.3 1620.0,533.1 1620.3,533.8 C1620.7,534.6 1621.0,535.4 1621.3,536.2 C1621.6,536.8 1621.8,537.4 1622.1,538.0 C1622.3,538.7 1622.6,539.3 1622.8,540.0 C1623.1,540.6 1623.3,541.3 1623.6,542.0 C1623.8,542.7 1624.1,543.4 1624.3,544.1 C1624.6,544.8 1624.8,545.5 1625.1,546.3 C1625.3,547.0 1625.6,547.8 1625.8,548.6 C1626.1,549.4 1626.3,550.1 1626.6,550.9 C1626.8,551.8 1627.1,552.6 1627.3,553.4 C1627.6,554.3 1627.8,555.1 1628.1,556.0 C1628.3,556.9 1628.6,557.8 1628.8,558.7 C1629.1,559.6 1629.3,560.6 1629.6,561.5 C1629.8,562.5 1630.1,563.5 1630.3,564.4 C1630.5,565.2 1630.7,565.8 1630.8,566.4 C1631.0,567.1 1631.2,567.8 1631.3,568.5 C1631.5,569.2 1631.7,569.9 1631.8,570.6 C1632.0,571.4 1632.2,572.1 1632.3,572.8 C1632.5,573.6 1632.7,574.3 1632.8,575.1 C1633.0,575.8 1633.2,576.6 1633.3,577.4 C1633.5,578.2 1633.7,579.0 1633.8,579.7 C1634.0,580.6 1634.2,581.4 1634.3,582.2 C1634.5,583.0 1634.7,583.9 1634.8,584.7 C1635.0,585.5 1635.2,586.4 1635.3,587.3 C1635.5,588.1 1635.7,589.0 1635.8,589.9 C1636.0,590.8 1636.2,591.7 1636.3,592.6 C1636.5,593.6 1636.7,594.5 1636.8,595.4 C1637.0,596.4 1637.2,597.3 1637.3,598.3 C1637.5,599.3 1637.7,600.2 1637.8,601.2 C1638.0,602.2 1638.2,603.2 1638.3,604.3 C1638.5,605.3 1638.7,606.3 1638.8,607.4 C1639.0,608.4 1639.2,609.5 1639.3,610.5 C1639.5,611.6 1639.7,612.7 1639.8,613.8 C1640.0,614.9 1640.2,616.1 1640.3,617.2 C1640.5,618.3 1640.7,619.5 1640.8,620.6 C1641.0,621.8 1641.2,623.0 1641.3,624.2 C1641.5,625.4 1641.7,626.6 1641.8,627.8 C1642.0,629.0 1642.2,630.3 1642.3,631.5 C1642.5,632.8 1642.7,634.1 1642.8,635.4 C1643.0,636.6 1643.2,638.2 1643.3,639.3 C1643.4,640.0 1643.5,640.6 1643.6,641.3 C1643.7,641.9 1643.7,642.6 1643.8,643.3 C1643.9,644.0 1644.0,644.7 1644.1,645.3 C1644.2,646.0 1644.2,646.7 1644.3,647.4 C1644.4,648.1 1644.5,648.8 1644.6,649.5 C1644.7,650.2 1644.7,650.9 1644.8,651.6 C1644.9,652.4 1645.0,653.1 1645.1,653.8 C1645.2,654.5 1645.2,655.2 1645.3,656.0 C1645.4,656.7 1645.5,657.4 1645.6,658.2 C1645.7,658.9 1645.7,659.7 1645.8,660.4 C1645.9,661.2 1646.0,661.9 1646.1,662.7 C1646.2,663.4 1646.2,664.2 1646.3,665.0 C1646.4,665.7 1646.5,666.5 1646.6,667.3 C1646.7,668.1 1646.7,668.8 1646.8,669.6 C1646.9,670.4 1647.0,671.2 1647.1,672.0 C1647.2,672.8 1647.2,673.6 1647.3,674.4 C1647.4,675.2 1647.5,676.0 1647.6,676.8 C1647.7,677.6 1647.7,678.5 1647.8,679.3 C1647.9,680.1 1648.0,680.9 1648.1,681.8 C1648.2,682.6 1648.2,683.4 1648.3,684.3 C1648.4,685.1 1648.5,686.0 1648.6,686.8 C1648.7,687.7 1648.7,688.5 1648.8,689.4 C1648.9,690.3 1649.0,691.1 1649.1,692.0 C1649.2,692.9 1649.2,693.7 1649.3,694.6 C1649.4,695.5 1649.5,696.4 1649.6,697.3 C1649.7,698.2 1649.7,699.1 1649.8,700.0 C1649.9,700.9 1650.0,701.8 1650.1,702.7 C1650.2,703.6 1650.2,704.5 1650.3,705.5 C1650.4,706.4 1650.5,707.3 1650.6,708.2 C1650.7,709.2 1650.7,710.1 1650.8,711.0 C1650.9,712.0 1651.0,712.9 1651.1,713.9 C1651.2,714.8 1651.2,715.8 1651.3,716.8 C1651.4,717.7 1651.5,718.7 1651.6,719.7 C1651.7,720.6 1651.7,721.6 1651.8,722.6 C1651.9,723.6 1652.0,724.6 1652.1,725.6 C1652.2,726.6 1652.2,727.6 1652.3,728.6 C1652.4,729.6 1652.5,730.6 1652.6,731.6 C1652.7,732.6 1652.7,733.6 1652.8,734.7 C1652.9,735.7 1653.0,736.7 1653.1,737.7 C1653.2,738.8 1653.2,739.8 1653.3,740.9 C1653.4,741.9 1653.5,743.0 1653.6,744.0 C1653.7,745.1 1653.7,746.1 1653.8,747.2 C1653.9,748.3 1654.0,749.3 1654.1,750.4 C1654.2,751.5 1654.2,752.6 1654.3,753.6 C1654.4,754.7 1654.5,755.8 1654.6,756.9 C1654.7,758.0 1654.7,759.1 1654.8,760.2 C1654.9,761.3 1655.0,762.4 1655.1,763.6 C1655.2,764.7 1655.2,765.8 1655.3,766.9 C1655.4,768.1 1655.5,769.2 1655.6,770.3 C1655.7,771.5 1655.7,772.6 1655.8,773.7 C1655.9,774.9 1656.0,776.0 1656.1,777.2 C1656.2,778.4 1656.2,779.5 1656.3,780.7 C1656.4,781.9 1656.5,783.0 1656.6,784.2 C1656.7,785.4 1656.7,786.6 1656.8,787.7 C1656.9,788.9 1657.0,790.1 1657.1,791.3 C1657.2,792.5 1657.2,793.7 1657.3,794.9 C1657.4,796.1 1657.5,797.3 1657.6,798.6 C1657.7,799.8 1657.7,801.0 1657.8,802.2 C1657.9,803.4 1658.0,804.7 1658.1,805.9 C1658.2,807.1 1658.2,808.4 1658.3,809.6 C1658.4,810.9 1658.5,812.1 1658.6,813.4 C1658.6,814.6 1658.7,815.9 1658.8,817.1 C1658.9,818.4 1659.0,819.7 1659.1,820.9 C1659.1,822.2 1659.2,823.5 1659.3,824.7 C1659.4,826.0 1659.5,827.3 1659.6,828.6 C1659.6,829.9 1659.7,831.2 1659.8,832.5 C1659.9,833.8 1660.0,835.1 1660.1,836.4 C1660.1,837.7 1660.2,839.0 1660.3,840.3 C1660.4,841.6 1660.5,842.9 1660.6,844.2 C1660.6,845.5 1660.7,846.9 1660.8,848.2 C1660.9,849.5 1661.0,850.9 1661.1,852.2 C1661.1,853.5 1661.2,854.9 1661.3,856.2 C1661.4,857.5 1661.5,858.9 1661.6,860.2 C1661.6,861.6 1661.7,862.9 1661.8,864.3 C1661.9,865.6 1662.0,867.0 1662.1,868.4 C1662.1,869.7 1662.2,871.1 1662.3,872.5 C1662.4,873.8 1662.5,875.2 1662.6,876.6 C1662.6,877.9 1662.7,879.3 1662.8,880.7 C1662.9,882.1 1663.0,883.5 1663.1,884.8 C1663.1,886.2 1663.2,887.6 1663.3,889.0 C1663.4,890.4 1663.5,891.8 1663.6,893.2 C1663.6,894.6 1663.7,896.0 1663.8,897.4 C1663.9,898.8 1664.0,900.2 1664.1,901.6 C1664.1,903.0 1664.2,904.4 1664.3,905.8 C1664.4,907.2 1664.5,908.6 1664.6,910.0 C1664.6,911.4 1664.7,912.9 1664.8,914.3 C1664.9,915.7 1665.0,917.1 1665.1,918.5 C1665.1,919.9 1665.2,921.4 1665.3,922.8 C1665.4,924.2 1665.5,925.6 1665.6,927.0 C1665.6,928.5 1665.7,929.9 1665.8,931.3 C1665.9,932.7 1666.0,934.2 1666.1,935.6 C1666.1,937.0 1666.2,938.4 1666.3,939.9 C1666.4,941.3 1666.5,942.7 1666.6,944.1 C1666.6,945.6 1666.7,947.0 1666.8,948.4 C1666.9,949.8 1667.0,951.3 1667.1,952.7 C1667.1,954.1 1667.2,955.6 1667.3,957.0 C1667.4,958.4 1667.5,959.8 1667.6,961.3 C1667.6,962.7 1667.7,964.1 1667.8,965.5 C1667.9,967.0 1668.0,968.4 1668.1,969.8 C1668.1,971.2 1668.2,972.6 1668.3,974.1 C1668.4,975.5 1668.5,976.9 1668.6,978.3 C1668.6,979.7 1668.7,981.1 1668.8,982.5 C1668.9,984.0 1669.0,985.4 1669.1,986.8 C1669.1,988.2 1669.2,989.6 1669.3,991.0 C1669.4,992.4 1669.5,993.8 1669.6,995.2 C1669.6,996.6 1669.7,998.0 1669.8,999.4 C1669.9,1000.8 1670.0,1002.1 1670.1,1003.5 C1670.1,1004.9 1670.2,1006.3 1670.3,1007.7 C1670.4,1009.1 1670.5,1010.4 1670.6,1011.8 C1670.6,1013.2 1670.7,1014.5 1670.8,1015.9 C1670.9,1017.3 1671.0,1018.6 1671.1,1020.0 C1671.1,1021.3 1671.2,1022.7 1671.3,1024.0 C1671.4,1025.4 1671.5,1026.7 1671.6,1028.1 C1671.6,1029.4 1671.7,1030.7 1671.8,1032.1 C1671.9,1033.4 1672.0,1034.7 1672.1,1036.0 C1672.1,1037.3 1672.2,1038.6 1672.3,1039.9 C1672.4,1041.2 1672.5,1042.5 1672.6,1043.8 C1672.6,1045.1 1672.7,1046.4 1672.8,1047.7 C1672.9,1049.0 1673.0,1050.2 1673.1,1051.5 C1673.1,1052.8 1673.2,1054.0 1673.3,1055.3 C1673.4,1056.5 1673.5,1057.8 1673.6,1059.0 C1673.6,1060.2 1673.7,1061.5 1673.8,1062.7 C1673.9,1063.9 1674.0,1065.1 1674.1,1066.3 C1674.1,1067.5 1674.2,1068.7 1674.3,1069.9 C1674.4,1071.1 1674.5,1072.3 1674.6,1073.5 C1674.6,1074.6 1674.7,1075.8 1674.8,1077.0 C1674.9,1078.1 1675.0,1079.2 1675.1,1080.4 C1675.1,1081.5 1675.2,1082.6 1675.3,1083.8 C1675.4,1084.9 1675.5,1086.0 1675.6,1087.1 C1675.6,1088.2 1675.7,1089.3 1675.8,1090.3 C1675.9,1091.4 1676.0,1092.5 1676.1,1093.5 C1676.1,1094.6 1676.2,1095.6 1676.3,1096.7 C1676.4,1097.7 1676.5,1098.7 1676.6,1099.7 C1676.6,1100.8 1676.7,1101.8 1676.8,1102.7 C1676.9,1103.7 1677.0,1104.7 1677.1,1105.7 C1677.1,1106.6 1677.2,1107.6 1677.3,1108.5 C1677.4,1109.5 1677.5,1110.4 1677.6,1111.3 C1677.6,1112.2 1677.7,1113.1 1677.8,1114.0 C1677.9,1114.9 1678.0,1115.8 1678.1,1116.7 C1678.1,1117.5 1678.2,1118.4 1678.3,1119.2 C1678.4,1119.9 1678.4,1120.6 1678.5,1121.4 C1678.6,1122.1 1678.7,1122.8 1678.7,1123.5 C1678.8,1124.2 1678.9,1124.8 1679.0,1125.5 C1679.0,1126.2 1679.1,1127.0 1679.2,1127.7 C1679.3,1128.4 1679.4,1129.1 1679.4,1129.8 C1679.5,1130.5 1679.6,1131.1 1679.7,1131.8 C1679.8,1132.5 1679.9,1133.2 1679.9,1133.9 C1680.0,1134.6 1680.1,1135.3 1680.2,1136.0 C1680.3,1136.7 1680.4,1137.3 1680.5,1138.0 C1680.6,1138.6 1680.7,1139.3 1680.8,1140.0 C1680.9,1140.6 1681.0,1141.3 1681.1,1142.0 C1681.2,1142.6 1681.4,1143.3 1681.5,1144.0 C1681.6,1144.7 1681.7,1145.3 1681.9,1146.0 C1682.0,1146.7 1682.2,1147.3 1682.3,1148.0 C1682.5,1148.6 1682.7,1149.3 1682.9,1149.9 C1683.2,1150.6 1683.5,1151.4 1683.8,1151.7 C1684.0,1151.9 1684.1,1152.0 1684.3,1152.0 C1684.7,1152.0 1685.5,1151.4 1685.9,1150.9 C1686.3,1150.4 1686.5,1149.7 1686.8,1149.1 C1687.0,1148.4 1687.2,1147.8 1687.4,1147.1 C1687.6,1146.5 1687.7,1145.9 1687.9,1145.2 C1688.0,1144.5 1688.2,1143.9 1688.3,1143.2 C1688.5,1142.5 1688.6,1141.9 1688.7,1141.2 C1688.8,1140.6 1688.9,1139.9 1689.0,1139.2 C1689.2,1138.5 1689.3,1137.8 1689.4,1137.2 C1689.5,1136.5 1689.6,1135.8 1689.7,1135.1 C1689.8,1134.5 1689.9,1133.8 1690.0,1133.1 C1690.1,1132.4 1690.1,1131.8 1690.2,1131.0 C1690.3,1130.2 1690.5,1129.3 1690.5,1128.6 C1690.6,1127.8 1690.7,1127.2 1690.8,1126.5 C1690.9,1125.7 1691.0,1125.0 1691.0,1124.3 C1691.1,1123.5 1691.2,1122.7 1691.3,1122.0 C1691.4,1121.2 1691.5,1120.4 1691.5,1119.6 C1691.6,1118.8 1691.7,1117.9 1691.8,1117.1 C1691.9,1116.3 1692.0,1115.4 1692.0,1114.5 C1692.1,1113.7 1692.2,1112.8 1692.3,1111.9 C1692.4,1111.0 1692.5,1110.1 1692.5,1109.2 C1692.6,1108.2 1692.7,1107.3 1692.8,1106.3 C1692.9,1105.4 1693.0,1104.4 1693.0,1103.4 C1693.1,1102.4 1693.2,1101.4 1693.3,1100.4 C1693.4,1099.4 1693.5,1098.4 1693.5,1097.3 C1693.6,1096.3 1693.7,1095.3 1693.8,1094.2 C1693.9,1093.1 1694.0,1092.0 1694.0,1091.0 C1694.1,1089.9 1694.2,1088.7 1694.3,1087.6 C1694.4,1086.5 1694.5,1085.4 1694.5,1084.2 C1694.6,1083.1 1694.7,1081.9 1694.8,1080.8 C1694.9,1079.6 1695.0,1078.4 1695.0,1077.2 C1695.1,1076.0 1695.2,1074.8 1695.3,1073.6 C1695.4,1072.4 1695.5,1071.2 1695.5,1070.0 C1695.6,1068.7 1695.7,1067.5 1695.8,1066.2 C1695.9,1064.9 1696.0,1063.7 1696.0,1062.4 C1696.1,1061.1 1696.2,1059.8 1696.3,1058.5 C1696.4,1057.2 1696.5,1055.9 1696.5,1054.6 C1696.6,1053.3 1696.7,1051.9 1696.8,1050.6 C1696.9,1049.3 1697.0,1047.9 1697.0,1046.5 C1697.1,1045.2 1697.2,1043.8 1697.3,1042.4 C1697.4,1041.1 1697.5,1039.7 1697.5,1038.3 C1697.6,1036.9 1697.7,1035.5 1697.8,1034.1 C1697.9,1032.7 1698.0,1031.3 1698.0,1029.8 C1698.1,1028.4 1698.2,1027.0 1698.3,1025.5 C1698.4,1024.1 1698.5,1022.7 1698.5,1021.2 C1698.6,1019.7 1698.7,1018.3 1698.8,1016.8 C1698.9,1015.4 1699.0,1013.9 1699.0,1012.4 C1699.1,1010.9 1699.2,1009.4 1699.3,1008.0 C1699.4,1006.5 1699.5,1005.0 1699.5,1003.5 C1699.6,1002.0 1699.7,1000.5 1699.8,999.0 C1699.9,997.4 1700.0,995.9 1700.0,994.4 C1700.1,992.9 1700.2,991.4 1700.3,989.8 C1700.4,988.3 1700.5,986.8 1700.5,985.2 C1700.6,983.7 1700.7,982.2 1700.8,980.6 C1700.9,979.1 1701.0,977.5 1701.0,976.0 C1701.1,974.4 1701.2,972.9 1701.3,971.3 C1701.4,969.8 1701.5,968.2 1701.5,966.6 C1701.6,965.1 1701.7,963.5 1701.8,962.0 C1701.9,960.4 1702.0,958.8 1702.0,957.3 C1702.1,955.7 1702.2,954.1 1702.3,952.5 C1702.4,951.0 1702.5,949.4 1702.5,947.8 C1702.6,946.3 1702.7,944.7 1702.8,943.1 C1702.9,941.5 1703.0,940.0 1703.0,938.4 C1703.1,936.8 1703.2,935.2 1703.3,933.7 C1703.4,932.1 1703.5,930.5 1703.5,928.9 C1703.6,927.4 1703.7,925.8 1703.8,924.2 C1703.9,922.6 1704.0,921.1 1704.0,919.5 C1704.1,917.9 1704.2,916.3 1704.3,914.8 C1704.4,913.2 1704.5,911.6 1704.5,910.1 C1704.6,908.5 1704.7,906.9 1704.8,905.4 C1704.9,903.8 1705.0,902.3 1705.0,900.7 C1705.1,899.1 1705.2,897.6 1705.3,896.0 C1705.4,894.5 1705.5,892.9 1705.5,891.4 C1705.6,889.8 1705.7,888.3 1705.8,886.7 C1705.9,885.2 1706.0,883.6 1706.0,882.1 C1706.1,880.6 1706.2,879.0 1706.3,877.5 C1706.4,876.0 1706.5,874.4 1706.5,872.9 C1706.6,871.4 1706.7,869.9 1706.8,868.3 C1706.9,866.8 1707.0,865.3 1707.0,863.8 C1707.1,862.3 1707.2,860.8 1707.3,859.3 C1707.4,857.8 1707.5,856.3 1707.5,854.8 C1707.6,853.3 1707.7,851.8 1707.8,850.3 C1707.9,848.8 1708.0,847.3 1708.0,845.9 C1708.1,844.4 1708.2,842.9 1708.3,841.4 C1708.4,840.0 1708.5,838.5 1708.5,837.1 C1708.6,835.6 1708.7,834.1 1708.8,832.7 C1708.9,831.3 1709.0,829.8 1709.0,828.4 C1709.1,826.9 1709.2,825.5 1709.3,824.1 C1709.4,822.7 1709.5,821.2 1709.5,819.8 C1709.6,818.4 1709.7,817.0 1709.8,815.6 C1709.9,814.2 1710.0,812.8 1710.0,811.4 C1710.1,810.0 1710.2,808.6 1710.3,807.2 C1710.4,805.9 1710.5,804.5 1710.5,803.1 C1710.6,801.7 1710.7,800.4 1710.8,799.0 C1710.9,797.7 1711.0,796.3 1711.0,795.0 C1711.1,793.6 1711.2,792.3 1711.3,790.9 C1711.4,789.6 1711.5,788.3 1711.5,787.0 C1711.6,785.6 1711.7,784.3 1711.8,783.0 C1711.9,781.7 1712.0,780.4 1712.0,779.1 C1712.1,777.8 1712.2,776.5 1712.3,775.2 C1712.4,774.0 1712.5,772.7 1712.5,771.4 C1712.6,770.2 1712.7,768.9 1712.8,767.6 C1712.9,766.4 1713.0,765.1 1713.0,763.9 C1713.1,762.6 1713.2,761.4 1713.3,760.2 C1713.4,758.9 1713.5,757.7 1713.5,756.5 C1713.6,755.3 1713.7,754.1 1713.8,752.9 C1713.9,751.7 1714.0,750.5 1714.0,749.3 C1714.1,748.1 1714.2,746.9 1714.3,745.7 C1714.4,744.6 1714.5,743.4 1714.5,742.2 C1714.6,741.1 1714.7,739.9 1714.8,738.8 C1714.9,737.6 1715.0,736.5 1715.0,735.3 C1715.1,734.2 1715.2,733.1 1715.3,731.9 C1715.4,730.8 1715.5,729.7 1715.5,728.6 C1715.6,727.5 1715.7,726.4 1715.8,725.3 C1715.9,724.2 1716.0,723.1 1716.0,722.0 C1716.1,720.9 1716.2,719.9 1716.3,718.8 C1716.4,717.7 1716.5,716.7 1716.5,715.6 C1716.6,714.5 1716.7,713.5 1716.8,712.4 C1716.9,711.4 1717.0,710.4 1717.0,709.3 C1717.1,708.3 1717.2,707.3 1717.3,706.3 C1717.4,705.3 1717.5,704.2 1717.5,703.2 C1717.6,702.2 1717.7,701.2 1717.8,700.3 C1717.9,699.3 1718.0,698.3 1718.0,697.3 C1718.1,696.3 1718.2,695.4 1718.3,694.4 C1718.4,693.4 1718.5,692.5 1718.5,691.5 C1718.6,690.6 1718.7,689.6 1718.8,688.7 C1718.9,687.7 1719.0,686.8 1719.0,685.9 C1719.1,685.0 1719.2,684.0 1719.3,683.1 C1719.4,682.2 1719.5,681.3 1719.5,680.4 C1719.6,679.5 1719.7,678.6 1719.8,677.7 C1719.9,676.8 1720.0,675.9 1720.0,675.1 C1720.1,674.2 1720.2,673.3 1720.3,672.5 C1720.4,671.6 1720.5,670.7 1720.5,669.9 C1720.6,669.0 1720.7,668.2 1720.8,667.3 C1720.9,666.5 1721.0,665.7 1721.0,664.8 C1721.1,664.0 1721.2,663.2 1721.3,662.4 C1721.4,661.6 1721.5,660.8 1721.5,659.9 C1721.6,659.1 1721.7,658.3 1721.8,657.5 C1721.9,656.8 1722.0,656.0 1722.0,655.2 C1722.1,654.4 1722.2,653.6 1722.3,652.9 C1722.4,652.1 1722.5,651.3 1722.5,650.6 C1722.6,649.8 1722.7,649.1 1722.8,648.3 C1722.9,647.6 1722.9,646.8 1723.0,646.1 C1723.1,645.3 1723.2,644.6 1723.3,643.9 C1723.4,643.2 1723.4,642.4 1723.5,641.7 C1723.6,641.0 1723.7,640.3 1723.8,639.6 C1723.9,638.9 1723.9,638.2 1724.0,637.5 C1724.1,636.8 1724.2,636.1 1724.3,635.4 C1724.4,634.7 1724.4,634.1 1724.5,633.4 C1724.6,632.7 1724.7,632.2 1724.8,631.4 C1724.9,630.3 1725.1,628.7 1725.3,627.5 C1725.4,626.2 1725.6,624.9 1725.8,623.6 C1725.9,622.4 1726.1,621.2 1726.3,620.0 C1726.4,618.8 1726.6,617.6 1726.8,616.4 C1726.9,615.2 1727.1,614.1 1727.3,612.9 C1727.4,611.8 1727.6,610.7 1727.8,609.5 C1727.9,608.4 1728.1,607.4 1728.3,606.3 C1728.4,605.2 1728.6,604.2 1728.8,603.1 C1728.9,602.1 1729.1,601.1 1729.3,600.1 C1729.4,599.1 1729.6,598.1 1729.8,597.1 C1729.9,596.1 1730.1,595.2 1730.3,594.2 C1730.4,593.3 1730.6,592.3 1730.8,591.4 C1730.9,590.5 1731.1,589.6 1731.3,588.7 C1731.4,587.8 1731.6,587.0 1731.8,586.1 C1731.9,585.2 1732.1,584.4 1732.3,583.6 C1732.4,582.7 1732.6,581.9 1732.8,581.1 C1732.9,580.3 1733.1,579.5 1733.3,578.7 C1733.4,577.9 1733.6,577.2 1733.8,576.4 C1733.9,575.7 1734.1,574.9 1734.3,574.2 C1734.4,573.5 1734.6,572.7 1734.8,572.0 C1734.9,571.3 1735.1,570.6 1735.3,569.9 C1735.4,569.2 1735.6,568.6 1735.8,567.9 C1735.9,567.2 1736.1,566.6 1736.3,565.9 C1736.5,565.1 1736.8,564.0 1737.0,563.1 C1737.3,562.2 1737.5,561.3 1737.8,560.4 C1738.0,559.5 1738.3,558.6 1738.5,557.8 C1738.8,557.0 1739.0,556.1 1739.3,555.3 C1739.5,554.5 1739.8,553.7 1740.0,553.0 C1740.3,552.2 1740.5,551.5 1740.8,550.7 C1741.0,550.0 1741.3,549.3 1741.5,548.6 C1741.8,547.9 1742.0,547.2 1742.3,546.5 C1742.5,545.9 1742.8,545.2 1743.0,544.6 C1743.3,544.0 1743.5,543.4 1743.8,542.7 C1744.1,542.0 1744.4,541.2 1744.8,540.4 C1745.1,539.6 1745.4,538.9 1745.8,538.2 C1746.1,537.5 1746.4,536.8 1746.8,536.1 C1747.1,535.4 1747.4,534.8 1747.8,534.1 C1748.1,533.5 1748.4,532.9 1748.8,532.3 C1749.1,531.7 1749.4,531.2 1749.8,530.6 C1750.2,529.9 1750.6,529.2 1751.0,528.5 C1751.4,527.9 1751.8,527.3 1752.3,526.7 C1752.7,526.1 1753.1,525.5 1753.5,524.9 C1753.9,524.4 1754.3,523.8 1754.8,523.3 C1755.2,522.7 1755.8,522.1 1756.3,521.5 C1756.8,520.9 1757.3,520.4 1757.8,519.8 C1758.3,519.3 1758.8,518.8 1759.3,518.3 C1759.8,517.8 1760.2,517.4 1760.8,516.9 C1761.3,516.4 1761.9,515.9 1762.5,515.4 C1763.1,515.0 1763.7,514.5 1764.3,514.1 C1764.8,513.6 1765.4,513.2 1766.0,512.8 C1766.6,512.5 1767.2,512.1 1767.8,511.7 C1768.3,511.4 1768.9,511.0 1769.5,510.7 C1770.2,510.3 1770.8,510.0 1771.5,509.6 C1772.2,509.3 1772.8,509.0 1773.5,508.7 C1774.2,508.4 1774.8,508.1 1775.5,507.8 C1776.2,507.5 1776.8,507.3 1777.5,507.0 C1778.2,506.8 1778.8,506.6 1779.5,506.3 C1780.2,506.1 1780.8,505.9 1781.5,505.7 C1782.2,505.5 1782.8,505.3 1783.5,505.1 C1784.2,504.9 1784.8,504.7 1785.5,504.6 C1786.2,504.4 1786.8,504.2 1787.5,504.1 C1788.2,503.9 1788.8,503.8 1789.5,503.6 C1790.2,503.4 1790.8,503.2 1791.5,503.1 C1792.2,502.9 1792.8,502.7 1793.5,502.5 C1794.2,502.3 1794.8,502.1 1795.5,501.9 C1796.2,501.8 1796.8,501.6 1797.5,501.4 C1798.2,501.2 1798.8,501.0 1799.5,500.8 C1800.2,500.6 1800.8,500.5 1801.5,500.3 C1802.2,500.1 1802.8,500.0 1803.5,499.8 C1804.2,499.7 1804.8,499.6 1805.5,499.5 C1806.2,499.4 1806.8,499.3 1807.5,499.3 C1808.2,499.2 1808.8,499.2 1809.5,499.1 C1810.2,499.1 1810.8,499.0 1811.5,499.0 C1812.2,498.9 1812.8,498.9 1813.5,498.9 C1814.2,498.9 1815.0,498.9 1815.7,498.9 C1816.5,498.9 1817.3,498.9 1818.0,498.9 C1818.7,499.0 1819.3,499.0 1820.0,499.0 C1820.7,499.1 1821.3,499.1 1822.0,499.2 C1822.7,499.3 1823.3,499.4 1824.0,499.4 C1824.7,499.5 1825.3,499.6 1826.0,499.7 C1826.7,499.8 1827.3,500.0 1828.0,500.1 C1828.7,500.2 1829.3,500.4 1830.0,500.5 C1830.7,500.6 1831.3,500.8 1832.0,501.0 C1832.7,501.1 1833.3,501.3 1834.0,501.5 C1834.7,501.7 1835.3,501.9 1836.0,502.1 C1836.7,502.3 1837.3,502.5 1838.0,502.7 C1838.7,503.0 1839.3,503.2 1840.0,503.4 C1840.7,503.7 1841.3,503.9 1842.0,504.2 C1842.7,504.4 1843.3,504.7 1844.0,505.0 C1844.6,505.2 1845.3,505.5 1846.0,505.8 C1846.6,506.1 1847.3,506.4 1848.0,506.7 C1848.6,507.0 1849.3,507.3 1850.0,507.6 C1850.6,507.9 1851.3,508.3 1852.0,508.6 C1852.6,508.9 1853.3,509.3 1854.0,509.6 C1854.6,510.0 1855.3,510.4 1856.0,510.7 C1856.6,511.1 1857.1,511.4 1857.7,511.7 C1858.3,512.0 1858.9,512.4 1859.5,512.7 C1860.1,513.1 1860.6,513.4 1861.2,513.8 C1861.8,514.2 1862.4,514.5 1863.0,514.9 C1863.6,515.3 1864.1,515.7 1864.7,516.1 C1865.3,516.5 1865.9,516.9 1866.5,517.3 C1867.1,517.7 1867.6,518.2 1868.2,518.6 C1868.8,519.0 1869.4,519.5 1870.0,519.9 C1870.6,520.4 1871.1,520.9 1871.7,521.4 C1872.3,521.8 1872.9,522.4 1873.5,522.8 C1874.0,523.3 1874.5,523.7 1875.0,524.2 C1875.5,524.6 1876.0,525.1 1876.5,525.6 C1877.0,526.1 1877.5,526.6 1878.0,527.1 C1878.5,527.6 1879.0,528.1 1879.5,528.6 C1880.0,529.2 1880.5,529.7 1881.0,530.3 C1881.5,530.8 1882.0,531.4 1882.5,532.0 C1883.0,532.6 1883.5,533.2 1884.0,533.8 C1884.4,534.4 1884.8,534.9 1885.2,535.4 C1885.6,536.0 1886.1,536.6 1886.5,537.1 C1886.9,537.7 1887.3,538.3 1887.7,538.9 C1888.1,539.5 1888.5,540.1 1889.0,540.8 C1889.4,541.4 1889.8,542.1 1890.2,542.7 C1890.6,543.4 1891.0,544.1 1891.5,544.8 C1891.9,545.5 1892.3,546.3 1892.7,547.0 C1893.1,547.6 1893.4,548.2 1893.7,548.8 C1894.0,549.4 1894.4,550.0 1894.7,550.7 C1895.0,551.3 1895.4,552.0 1895.7,552.7 C1896.0,553.4 1896.4,554.0 1896.7,554.7 C1897.0,555.4 1897.4,556.2 1897.7,556.9 C1898.0,557.6 1898.4,558.4 1898.7,559.1 C1899.0,559.9 1899.4,560.7 1899.7,561.5 C1900.0,562.3 1900.4,563.2 1900.7,564.0 C1901.0,564.6 1901.2,565.2 1901.5,565.9 C1901.7,566.5 1902.0,567.2 1902.2,567.8 C1902.5,568.5 1902.7,569.2 1903.0,569.9 C1903.2,570.6 1903.5,571.3 1903.7,572.0 C1904.0,572.7 1904.2,573.4 1904.5,574.2 C1904.7,574.9 1905.0,575.6 1905.2,576.4 C1905.5,577.2 1905.7,577.9 1906.0,578.7 C1906.2,579.5 1906.5,580.3 1906.7,581.1 C1907.0,581.9 1907.2,582.7 1907.5,583.6 C1907.7,584.4 1908.0,585.3 1908.2,586.1 C1908.5,587.0 1908.7,587.9 1909.0,588.8 C1909.2,589.7 1909.5,590.6 1909.7,591.5 C1910.0,592.4 1910.2,593.3 1910.5,594.3 C1910.7,595.3 1911.0,596.3 1911.2,597.2 C1911.4,597.9 1911.5,598.5 1911.7,599.2 C1911.9,599.8 1912.0,600.5 1912.2,601.2 C1912.4,601.9 1912.5,602.6 1912.7,603.3 C1912.9,604.0 1913.0,604.7 1913.2,605.4 C1913.4,606.1 1913.5,606.8 1913.7,607.5 C1913.9,608.3 1914.0,609.0 1914.2,609.7 C1914.4,610.5 1914.5,611.2 1914.7,612.0 C1914.9,612.8 1915.0,613.5 1915.2,614.3 C1915.4,615.1 1915.5,615.9 1915.7,616.6 C1915.9,617.4 1916.0,618.2 1916.2,619.0 C1916.4,619.8 1916.5,620.7 1916.7,621.5 C1916.9,622.3 1917.0,623.1 1917.2,624.0 C1917.4,624.8 1917.5,625.7 1917.7,626.5 C1917.9,627.4 1918.0,628.3 1918.2,629.1"/>
<path stroke="#ff0000" d="M352.6,622.4 C353.4,622.4 353.8,622.4 355.0,622.3 C358.3,622.1 368.3,621.7 373.8,620.5 C378.3,619.5 381.1,618.2 385.7,616.3 C392.3,613.5 401.6,608.5 409.5,604.4 C417.5,600.2 425.4,595.8 433.3,591.3 C441.3,586.7 449.2,581.8 457.1,577.0 C465.1,572.2 473.0,567.5 481.0,562.7 C488.9,558.0 496.9,553.4 504.8,548.5 C512.8,543.5 520.6,538.0 528.6,533.0 C536.5,528.1 544.5,523.4 552.4,518.7 C560.3,514.0 568.2,509.0 576.2,504.7 C584.0,500.4 592.4,496.5 600.0,493.1 C606.9,490.1 613.0,487.6 620.0,485.0 C627.4,482.3 634.6,479.4 643.3,477.1 C653.9,474.3 667.1,472.1 679.0,470.1 C690.9,468.2 702.9,466.4 714.8,465.5 C726.7,464.6 738.6,464.5 750.5,464.5 C762.4,464.6 773.7,465.5 786.2,465.9 C800.1,466.3 812.4,466.3 830.0,466.8 C856.6,467.4 894.5,468.6 930.0,469.8 C970.5,471.1 1016.7,473.2 1060.0,474.5 C1103.3,475.9 1148.3,476.9 1190.0,477.8 C1228.8,478.6 1293.0,479.5 1302.2,479.7 C1303.6,479.7 1303.7,479.7 1304.5,479.7 C1305.2,479.7 1306.0,479.7 1306.7,479.7 C1307.5,479.7 1308.2,479.8 1309.0,479.8 C1309.7,479.8 1310.5,479.8 1311.2,479.8 C1312.0,479.8 1312.7,479.8 1313.5,479.9 C1314.2,479.9 1315.0,479.9 1315.7,479.9 C1316.5,479.9 1317.2,479.9 1318.0,479.9 C1318.7,479.9 1319.5,480.0 1320.2,480.0 C1321.0,480.0 1321.7,480.0 1322.5,480.0 C1323.2,480.0 1324.0,480.0 1324.7,480.1 C1325.5,480.1 1326.2,480.1 1327.0,480.1 C1327.7,480.1 1328.5,480.1 1329.2,480.1 C1330.0,480.2 1330.7,480.2 1331.5,480.2 C1332.2,480.2 1333.0,480.2 1333.7,480.2 C1334.5,480.2 1335.2,480.2 1336.0,480.3 C1336.7,480.3 1337.5,480.3 1338.2,480.3 C1339.0,480.3 1339.7,480.3 1340.5,480.3 C1341.2,480.4 1342.0,480.4 1342.7,480.4 C1343.5,480.4 1344.2,480.4 1345.0,480.4 C1345.7,480.4 1346.5,480.5 1347.2,480.5 C1348.0,480.5 1348.7,480.5 1349.5,480.5 C1350.2,480.5 1351.0,480.5 1351.7,480.6 C1352.5,480.6 1353.2,480.6 1354.0,480.6 C1354.7,480.6 1355.4,480.6 1356.2,480.6 C1356.9,480.7 1357.7,480.7 1358.4,480.7 C1359.2,480.7 1359.9,480.7 1360.7,480.7 C1361.4,480.7 1362.2,480.8 1362.9,480.8 C1363.7,480.8 1364.4,480.8 1365.2,480.8 C1365.9,480.8 1366.7,480.8 1367.4,480.9 C1368.2,480.9 1368.9,480.9 1369.7,480.9 C1370.4,480.9 1371.2,480.9 1371.9,480.9 C1372.7,481.0 1373.4,481.0 1374.2,481.0 C1374.9,481.0 1375.7,481.0 1376.4,481.0 C1377.2,481.1 1377.9,481.1 1378.7,481.1 C1379.4,481.1 1380.2,481.1 1380.9,481.1 C1381.7,481.1 1382.4,481.2 1383.2,481.2 C1383.9,481.2 1384.7,481.2 1385.4,481.2 C1386.2,481.2 1386.9,481.3 1387.7,481.3 C1388.4,481.3 1389.2,481.3 1389.9,481.3 C1390.7,481.3 1391.4,481.4 1392.2,481.4 C1392.9,481.4 1393.7,481.4 1394.4,481.4 C1395.2,481.4 1395.9,481.5 1396.7,481.5 C1397.4,481.5 1398.2,481.5 1398.9,481.5 C1399.7,481.6 1400.4,481.6 1401.2,481.6 C1401.8,481.7 1402.5,481.7 1403.2,481.7 C1403.8,481.8 1404.5,481.8 1405.2,481.8 C1405.8,481.9 1406.5,481.9 1407.2,481.9 C1407.8,482.0 1408.5,482.0 1409.1,482.0 C1409.8,482.1 1410.5,482.1 1411.1,482.1 C1411.8,482.2 1412.5,482.2 1413.1,482.2 C1413.8,482.3 1414.5,482.3 1415.1,482.4 C1415.8,482.4 1416.5,482.4 1417.1,482.5 C1417.8,482.5 1418.5,482.5 1419.1,482.6 C1419.8,482.6 1420.5,482.6 1421.1,482.7 C1421.8,482.7 1422.5,482.8 1423.1,482.8 C1423.8,482.8 1424.5,482.9 1425.1,482.9 C1425.8,483.0 1426.5,483.0 1427.1,483.0 C1427.8,483.1 1428.5,483.1 1429.1,483.2 C1429.8,483.2 1430.5,483.3 1431.1,483.3 C1431.8,483.3 1432.5,483.4 1433.1,483.4 C1433.8,483.5 1434.5,483.5 1435.1,483.6 C1435.8,483.6 1436.5,483.7 1437.1,483.7 C1437.8,483.8 1438.5,483.8 1439.1,483.9 C1439.8,483.9 1440.4,483.9 1441.1,484.0 C1441.8,484.0 1442.6,484.0 1443.4,484.0 C1444.1,484.1 1444.9,484.1 1445.6,484.1 C1446.3,484.1 1446.9,484.2 1447.6,484.2 C1448.3,484.2 1448.9,484.3 1449.6,484.3 C1450.3,484.3 1450.9,484.4 1451.6,484.4 C1452.3,484.4 1452.9,484.5 1453.6,484.5 C1454.3,484.6 1454.9,484.6 1455.6,484.6 C1456.3,484.7 1456.9,484.7 1457.6,484.8 C1458.3,484.8 1458.9,484.9 1459.6,484.9 C1460.3,485.0 1460.9,485.0 1461.6,485.1 C1462.3,485.2 1462.9,485.2 1463.6,485.3 C1464.3,485.3 1464.9,485.4 1465.6,485.5 C1466.3,485.5 1466.9,485.6 1467.6,485.7 C1468.3,485.8 1468.9,485.9 1469.6,486.0 C1470.3,486.0 1470.9,486.1 1471.6,486.2 C1472.3,486.3 1472.9,486.4 1473.6,486.5 C1474.3,486.6 1474.9,486.8 1475.6,486.9 C1476.3,487.0 1476.9,487.1 1477.6,487.3 C1478.3,487.4 1478.9,487.5 1479.6,487.7 C1480.3,487.8 1480.9,488.0 1481.6,488.2 C1482.2,488.3 1482.9,488.5 1483.6,488.7 C1484.2,488.9 1484.9,489.1 1485.6,489.3 C1486.2,489.5 1486.9,489.8 1487.6,490.0 C1488.2,490.2 1488.9,490.5 1489.6,490.8 C1490.2,491.1 1490.9,491.3 1491.6,491.7 C1492.2,492.0 1492.9,492.3 1493.6,492.7 C1494.2,493.0 1494.7,493.3 1495.3,493.6 C1495.9,494.0 1496.5,494.4 1497.1,494.8 C1497.7,495.2 1498.2,495.6 1498.8,496.0 C1499.4,496.4 1500.0,496.9 1500.6,497.4 C1501.1,497.9 1501.6,498.3 1502.1,498.7 C1502.6,499.2 1503.1,499.7 1503.6,500.2 C1504.1,500.8 1504.6,501.3 1505.1,501.9 C1505.6,502.5 1506.1,503.1 1506.6,503.8 C1507.0,504.3 1507.4,504.9 1507.8,505.5 C1508.2,506.1 1508.6,506.7 1509.1,507.3 C1509.5,508.0 1509.9,508.7 1510.3,509.4 C1510.7,510.0 1511.0,510.5 1511.3,511.2 C1511.6,511.8 1512.0,512.4 1512.3,513.1 C1512.6,513.8 1513.0,514.4 1513.3,515.2 C1513.6,515.9 1514.0,516.6 1514.3,517.4 C1514.6,518.2 1515.0,519.0 1515.3,519.8 C1515.6,520.5 1515.8,521.1 1516.0,521.8 C1516.3,522.4 1516.6,523.1 1516.8,523.8 C1517.1,524.5 1517.3,525.3 1517.5,526.0 C1517.8,526.8 1518.1,527.5 1518.3,528.3 C1518.6,529.1 1518.8,530.0 1519.0,530.8 C1519.3,531.6 1519.6,532.5 1519.8,533.4 C1520.0,534.3 1520.3,535.3 1520.5,536.2 C1520.7,536.9 1520.9,537.5 1521.0,538.1 C1521.2,538.8 1521.4,539.5 1521.5,540.2 C1521.7,540.9 1521.9,541.6 1522.0,542.3 C1522.2,543.0 1522.4,543.7 1522.5,544.5 C1522.7,545.2 1522.9,546.0 1523.0,546.8 C1523.2,547.5 1523.4,548.3 1523.5,549.1 C1523.7,550.0 1523.9,550.8 1524.0,551.6 C1524.2,552.5 1524.4,553.3 1524.5,554.2 C1524.7,555.1 1524.9,556.0 1525.0,556.9 C1525.2,557.8 1525.4,558.8 1525.5,559.7 C1525.7,560.7 1525.9,561.7 1526.0,562.7 C1526.2,563.7 1526.4,564.7 1526.5,565.7 C1526.7,566.8 1526.9,567.8 1527.0,568.9 C1527.2,570.0 1527.4,571.1 1527.5,572.2 C1527.7,573.3 1527.9,574.5 1528.0,575.7 C1528.2,576.8 1528.4,578.0 1528.5,579.3 C1528.7,580.5 1528.9,581.7 1529.0,583.0 C1529.2,584.3 1529.4,585.8 1529.5,586.9 C1529.6,587.7 1529.7,588.3 1529.8,588.9 C1529.9,589.6 1530.0,590.3 1530.0,591.0 C1530.1,591.7 1530.2,592.4 1530.3,593.1 C1530.4,593.8 1530.5,594.5 1530.5,595.2 C1530.6,596.0 1530.7,596.7 1530.8,597.4 C1530.9,598.2 1531.0,598.9 1531.0,599.7 C1531.1,600.4 1531.2,601.2 1531.3,602.0 C1531.4,602.7 1531.5,603.5 1531.5,604.3 C1531.6,605.1 1531.7,605.9 1531.8,606.7 C1531.9,607.5 1532.0,608.3 1532.0,609.1 C1532.1,609.9 1532.2,610.7 1532.3,611.6 C1532.4,612.4 1532.5,613.3 1532.5,614.1 C1532.6,615.0 1532.7,615.8 1532.8,616.7 C1532.9,617.6 1533.0,618.4 1533.0,619.3 C1533.1,620.2 1533.2,621.1 1533.3,622.0 C1533.4,622.9 1533.5,623.9 1533.5,624.8 C1533.6,625.7 1533.7,626.6 1533.8,627.6 C1533.9,628.5 1534.0,629.5 1534.0,630.4 C1534.1,631.4 1534.2,632.4 1534.3,633.4 C1534.4,634.3 1534.4,635.3 1534.5,636.3 C1534.6,637.3 1534.7,638.4 1534.8,639.4 C1534.9,640.4 1534.9,641.4 1535.0,642.5 C1535.1,643.5 1535.2,644.6 1535.3,645.7 C1535.4,646.7 1535.4,647.8 1535.5,648.9 C1535.6,650.0 1535.7,651.1 1535.8,652.2 C1535.9,653.3 1535.9,654.4 1536.0,655.6 C1536.1,656.7 1536.2,657.8 1536.3,659.0 C1536.4,660.1 1536.4,661.3 1536.5,662.5 C1536.6,663.7 1536.7,664.9 1536.8,666.1 C1536.9,667.3 1536.9,668.5 1537.0,669.7 C1537.1,670.9 1537.2,672.2 1537.3,673.4 C1537.4,674.7 1537.4,675.9 1537.5,677.2 C1537.6,678.5 1537.7,679.8 1537.8,681.1 C1537.9,682.4 1537.9,683.7 1538.0,685.0 C1538.1,686.4 1538.2,687.7 1538.3,689.0 C1538.4,690.4 1538.4,691.8 1538.5,693.1 C1538.6,694.5 1538.7,695.9 1538.8,697.3 C1538.9,698.7 1538.9,700.2 1539.0,701.6 C1539.1,703.0 1539.2,704.5 1539.3,705.9 C1539.4,707.4 1539.4,708.9 1539.5,710.3 C1539.6,711.8 1539.7,713.3 1539.8,714.9 C1539.9,716.4 1539.9,717.9 1540.0,719.5 C1540.1,721.0 1540.2,722.6 1540.3,724.1 C1540.4,725.7 1540.4,727.3 1540.5,728.9 C1540.6,730.5 1540.7,732.1 1540.8,733.8 C1540.9,735.4 1540.9,737.1 1541.0,738.7 C1541.1,740.4 1541.2,742.1 1541.3,743.8 C1541.4,745.5 1541.4,747.2 1541.5,748.9 C1541.6,750.6 1541.7,752.4 1541.8,754.1 C1541.9,755.9 1541.9,757.7 1542.0,759.4 C1542.1,761.2 1542.2,763.1 1542.3,764.9 C1542.4,766.7 1542.4,768.5 1542.5,770.4 C1542.6,772.2 1542.7,774.1 1542.8,776.0 C1542.9,777.9 1542.9,779.8 1543.0,781.7 C1543.1,783.6 1543.2,785.6 1543.3,787.5 C1543.4,789.5 1543.4,791.4 1543.5,793.4 C1543.6,795.4 1543.7,797.4 1543.8,799.4 C1543.9,801.5 1543.9,803.5 1544.0,805.5 C1544.1,807.6 1544.2,809.7 1544.3,811.8 C1544.4,813.9 1544.4,816.0 1544.5,818.1 C1544.6,820.2 1544.7,822.3 1544.8,824.5 C1544.9,826.7 1544.9,828.8 1545.0,831.0 C1545.1,833.2 1545.2,835.4 1545.3,837.6 C1545.4,839.9 1545.4,842.1 1545.5,844.4 C1545.6,846.6 1545.7,848.9 1545.8,851.2 C1545.9,853.5 1545.9,855.8 1546.0,858.1 C1546.1,860.5 1546.2,862.8 1546.3,865.2 C1546.4,867.5 1546.4,869.9 1546.5,872.3 C1546.6,874.7 1546.7,877.1 1546.8,879.5 C1546.9,882.0 1546.9,884.4 1547.0,886.9 C1547.1,889.4 1547.2,891.8 1547.3,894.3 C1547.4,896.9 1547.4,899.4 1547.5,901.9 C1547.6,904.4 1547.7,907.0 1547.8,909.5 C1547.9,912.1 1547.9,914.7 1548.0,917.3 C1548.1,919.9 1548.2,922.5 1548.3,925.2 C1548.4,927.8 1548.4,930.5 1548.5,933.1 C1548.6,935.8 1548.7,938.5 1548.8,941.2 C1548.9,943.9 1548.9,946.6 1549.0,949.3 C1549.1,952.1 1549.2,954.8 1549.3,957.6 C1549.4,960.3 1549.4,963.1 1549.5,965.9 C1549.6,968.7 1549.7,971.5 1549.8,974.3 C1549.9,977.2 1549.9,980.0 1550.0,982.8 C1550.1,985.7 1550.2,988.6 1550.3,991.4 C1550.4,994.3 1550.4,997.2 1550.5,1000.1 C1550.6,1003.1 1550.7,1006.0 1550.8,1008.9 C1550.9,1011.9 1550.9,1014.8 1551.0,1017.8 C1551.1,1020.7 1551.2,1023.7 1551.3,1026.7 C1551.4,1029.7 1551.4,1032.7 1551.5,1035.7 C1551.6,1038.7 1551.7,1041.8 1551.8,1044.8 C1551.9,1047.8 1551.9,1050.9 1552.0,1053.9 C1552.1,1057.0 1552.2,1060.1 1552.3,1063.2 C1552.3,1066.2 1552.4,1069.3 1552.5,1072.4 C1552.6,1075.5 1552.7,1078.6 1552.8,1081.8 C1552.8,1084.9 1552.9,1088.0 1553.0,1091.2 C1553.1,1094.3 1553.2,1097.4 1553.3,1100.6 C1553.3,1103.7 1553.4,1106.9 1553.5,1110.1 C1553.6,1113.2 1553.7,1116.4 1553.8,1119.6 C1553.8,1122.8 1553.9,1126.0 1554.0,1129.1 C1554.1,1132.3 1554.2,1135.5 1554.3,1138.7 C1554.3,1141.9 1554.4,1145.1 1554.5,1148.3 C1554.6,1151.6 1554.7,1154.8 1554.8,1158.0 C1554.8,1161.2 1554.9,1164.4 1555.0,1167.6 C1555.1,1170.9 1555.2,1174.1 1555.3,1177.3 C1555.3,1180.5 1555.4,1183.7 1555.5,1187.0 C1555.6,1190.2 1555.7,1193.4 1555.8,1196.6 C1555.8,1199.8 1555.9,1203.0 1556.0,1206.3 C1556.1,1209.5 1556.2,1212.7 1556.3,1215.9 C1556.3,1219.1 1556.4,1222.3 1556.5,1225.5 C1556.6,1228.7 1556.7,1231.9 1556.8,1235.1 C1556.8,1238.3 1556.9,1241.5 1557.0,1244.7 C1557.1,1247.8 1557.2,1251.0 1557.3,1254.2 C1557.3,1257.3 1557.4,1260.5 1557.5,1263.6 C1557.6,1266.8 1557.7,1269.9 1557.8,1273.0 C1557.8,1276.2 1557.9,1279.3 1558.0,1282.4 C1558.1,1285.5 1558.2,1288.6 1558.3,1291.6 C1558.3,1294.7 1558.4,1297.8 1558.5,1300.8 C1558.6,1303.9 1558.7,1306.9 1558.8,1310.0 C1558.8,1313.0 1558.9,1316.0 1559.0,1319.0 C1559.1,1322.0 1559.2,1324.9 1559.3,1327.9 C1559.3,1330.8 1559.4,1333.8 1559.5,1336.7 C1559.6,1339.6 1559.7,1342.5 1559.8,1345.4 C1559.8,1348.3 1559.9,1351.2 1560.0,1354.0 C1560.1,1356.8 1560.2,1359.6 1560.3,1362.5 C1560.3,1365.2 1560.4,1368.0 1560.5,1370.8 C1560.6,1373.5 1560.7,1376.2 1560.8,1378.9 C1560.8,1381.6 1560.9,1384.3 1561.0,1387.0 C1561.1,1389.6 1561.2,1392.2 1561.3,1394.8 C1561.3,1397.4 1561.4,1400.0 1561.5,1402.5 C1561.6,1405.1 1561.7,1407.6 1561.8,1410.1 C1561.8,1412.5 1561.9,1415.0 1562.0,1417.4 C1562.1,1419.8 1562.2,1422.2 1562.3,1424.6 C1562.3,1426.9 1562.4,1429.3 1562.5,1431.6 C1562.6,1433.8 1562.7,1436.1 1562.8,1438.3 C1562.8,1440.6 1562.9,1442.8 1563.0,1444.9 C1563.1,1447.1 1563.2,1449.2 1563.3,1451.3 C1563.3,1453.4 1563.4,1455.4 1563.5,1457.5 C1563.6,1459.5 1563.7,1461.5 1563.8,1463.4 C1563.8,1465.3 1563.9,1467.6 1564.0,1469.0 C1564.0,1469.9 1564.1,1470.5 1564.1,1471.2 C1564.1,1472.0 1564.2,1472.7 1564.2,1473.4 C1564.2,1474.1 1564.3,1474.9 1564.3,1475.6 C1564.3,1476.3 1564.4,1477.0 1564.4,1477.7 C1564.4,1478.4 1564.5,1479.1 1564.5,1479.8 C1564.5,1480.5 1564.6,1481.1 1564.6,1481.8 C1564.6,1482.5 1564.7,1483.1 1564.7,1483.8 C1564.7,1484.6 1564.8,1485.4 1564.8,1486.2 C1564.9,1486.9 1564.9,1487.7 1564.9,1488.5 C1565.0,1489.2 1565.0,1490.0 1565.1,1490.7 C1565.1,1491.4 1565.1,1492.2 1565.2,1492.9 C1565.2,1493.6 1565.3,1494.3 1565.3,1495.0 C1565.3,1495.7 1565.4,1496.4 1565.4,1497.1 C1565.5,1497.8 1565.5,1498.4 1565.5,1499.1 C1565.6,1499.9 1565.6,1500.6 1565.7,1501.4 C1565.7,1502.1 1565.8,1502.9 1565.8,1503.6 C1565.9,1504.3 1565.9,1505.0 1566.0,1505.7 C1566.0,1506.4 1566.1,1507.1 1566.1,1507.8 C1566.1,1508.5 1566.2,1509.2 1566.3,1509.9 C1566.3,1510.7 1566.4,1511.4 1566.4,1512.2 C1566.5,1512.9 1566.5,1513.5 1566.6,1514.2 C1566.6,1514.9 1566.7,1515.6 1566.8,1516.3 C1566.8,1517.0 1566.9,1517.7 1566.9,1518.4 C1567.0,1519.1 1567.1,1519.8 1567.1,1520.5 C1567.2,1521.2 1567.3,1521.9 1567.4,1522.6 C1567.4,1523.4 1567.5,1524.1 1567.6,1524.8 C1567.7,1525.4 1567.8,1526.1 1567.9,1526.8 C1568.0,1527.5 1568.0,1528.1 1568.2,1528.8 C1568.3,1529.5 1568.4,1530.2 1568.5,1530.8 C1568.7,1531.5 1568.8,1532.2 1569.1,1532.8 C1569.3,1533.3 1569.7,1534.0 1570.0,1534.0 C1570.3,1534.0 1570.6,1532.8 1570.8,1532.2 C1571.0,1531.6 1571.1,1530.9 1571.2,1530.3 C1571.3,1529.6 1571.4,1528.9 1571.5,1528.2 C1571.6,1527.5 1571.7,1526.8 1571.8,1526.0 C1571.9,1525.3 1571.9,1524.7 1572.0,1524.0 C1572.1,1523.3 1572.1,1522.6 1572.2,1521.9 C1572.3,1521.2 1572.3,1520.5 1572.4,1519.8 C1572.4,1519.1 1572.5,1518.4 1572.6,1517.6 C1572.6,1516.9 1572.7,1516.3 1572.7,1515.6 C1572.8,1514.8 1572.8,1514.1 1572.9,1513.4 C1572.9,1512.7 1573.0,1512.0 1573.0,1511.3 C1573.1,1510.6 1573.1,1509.9 1573.2,1509.2 C1573.2,1508.5 1573.3,1507.8 1573.3,1507.0 C1573.3,1506.3 1573.4,1505.5 1573.4,1504.7 C1573.5,1504.0 1573.5,1503.4 1573.6,1502.7 C1573.6,1502.0 1573.6,1501.3 1573.7,1500.6 C1573.7,1499.9 1573.8,1499.2 1573.8,1498.4 C1573.8,1497.7 1573.9,1497.0 1573.9,1496.2 C1574.0,1495.5 1574.0,1494.7 1574.0,1493.9 C1574.1,1493.2 1574.1,1492.4 1574.2,1491.6 C1574.2,1490.9 1574.2,1490.3 1574.3,1489.6 C1574.3,1488.9 1574.3,1488.2 1574.4,1487.6 C1574.4,1486.9 1574.4,1486.2 1574.5,1485.5 C1574.5,1484.8 1574.5,1484.1 1574.6,1483.4 C1574.6,1482.6 1574.6,1481.9 1574.7,1481.2 C1574.7,1480.5 1574.7,1479.7 1574.8,1479.0 C1574.8,1478.2 1574.8,1477.5 1574.9,1476.7 C1574.9,1476.0 1574.9,1475.2 1575.0,1474.5 C1575.0,1473.7 1575.0,1472.9 1575.1,1472.1 C1575.1,1471.4 1575.1,1470.5 1575.2,1469.8 C1575.2,1469.1 1575.2,1468.4 1575.2,1467.7 C1575.3,1467.0 1575.3,1466.2 1575.3,1465.4 C1575.4,1464.6 1575.4,1463.8 1575.4,1463.0 C1575.5,1462.1 1575.5,1461.3 1575.5,1460.5 C1575.6,1459.8 1575.6,1459.1 1575.6,1458.5 C1575.6,1457.8 1575.7,1457.1 1575.7,1456.4 C1575.7,1455.7 1575.8,1455.0 1575.8,1454.3 C1575.8,1453.6 1575.8,1452.9 1575.9,1452.2 C1575.9,1451.5 1575.9,1451.1 1575.9,1450.1 C1576.0,1448.3 1576.1,1444.5 1576.2,1441.8 C1576.3,1439.4 1576.4,1437.2 1576.5,1434.8 C1576.6,1432.4 1576.7,1430.0 1576.7,1427.6 C1576.8,1425.2 1576.9,1422.7 1577.0,1420.2 C1577.1,1417.7 1577.2,1415.2 1577.2,1412.6 C1577.3,1410.1 1577.4,1407.5 1577.5,1404.9 C1577.6,1402.2 1577.7,1399.6 1577.7,1396.9 C1577.8,1394.3 1577.9,1391.6 1578.0,1388.9 C1578.1,1386.1 1578.2,1383.4 1578.2,1380.6 C1578.3,1377.9 1578.4,1375.1 1578.5,1372.3 C1578.6,1369.4 1578.7,1366.6 1578.7,1363.8 C1578.8,1360.9 1578.9,1358.0 1579.0,1355.1 C1579.1,1352.2 1579.2,1349.3 1579.2,1346.4 C1579.3,1343.4 1579.4,1340.5 1579.5,1337.5 C1579.6,1334.5 1579.7,1331.5 1579.7,1328.5 C1579.8,1325.5 1579.9,1322.5 1580.0,1319.4 C1580.1,1316.4 1580.2,1313.4 1580.2,1310.3 C1580.3,1307.2 1580.4,1304.1 1580.5,1301.1 C1580.6,1298.0 1580.7,1294.9 1580.7,1291.7 C1580.8,1288.6 1580.9,1285.5 1581.0,1282.4 C1581.1,1279.2 1581.2,1276.1 1581.2,1272.9 C1581.3,1269.8 1581.4,1266.6 1581.5,1263.5 C1581.6,1260.3 1581.7,1257.1 1581.7,1253.9 C1581.8,1250.7 1581.9,1247.6 1582.0,1244.4 C1582.1,1241.2 1582.2,1238.0 1582.2,1234.8 C1582.3,1231.6 1582.4,1228.4 1582.5,1225.2 C1582.6,1221.9 1582.7,1218.7 1582.7,1215.5 C1582.8,1212.3 1582.9,1209.1 1583.0,1205.9 C1583.1,1202.7 1583.2,1199.4 1583.2,1196.2 C1583.3,1193.0 1583.4,1189.8 1583.5,1186.6 C1583.6,1183.4 1583.7,1180.2 1583.7,1176.9 C1583.8,1173.7 1583.9,1170.5 1584.0,1167.3 C1584.1,1164.1 1584.2,1160.9 1584.2,1157.7 C1584.3,1154.5 1584.4,1151.3 1584.5,1148.1 C1584.6,1144.9 1584.7,1141.7 1584.7,1138.6 C1584.8,1135.4 1584.9,1132.2 1585.0,1129.0 C1585.1,1125.9 1585.2,1122.7 1585.2,1119.6 C1585.3,1116.4 1585.4,1113.3 1585.5,1110.1 C1585.6,1107.0 1585.7,1103.8 1585.7,1100.7 C1585.8,1097.6 1585.9,1094.5 1586.0,1091.4 C1586.1,1088.3 1586.2,1085.2 1586.2,1082.1 C1586.3,1079.0 1586.4,1075.9 1586.5,1072.9 C1586.6,1069.8 1586.7,1066.7 1586.7,1063.7 C1586.8,1060.7 1586.9,1057.6 1587.0,1054.6 C1587.1,1051.6 1587.2,1048.6 1587.2,1045.6 C1587.3,1042.6 1587.4,1039.6 1587.5,1036.6 C1587.6,1033.6 1587.7,1030.7 1587.7,1027.7 C1587.8,1024.8 1587.9,1021.8 1588.0,1018.9 C1588.1,1016.0 1588.2,1013.1 1588.2,1010.2 C1588.3,1007.3 1588.4,1004.4 1588.5,1001.5 C1588.6,998.7 1588.7,995.8 1588.7,993.0 C1588.8,990.1 1588.9,987.3 1589.0,984.5 C1589.1,981.7 1589.2,978.9 1589.2,976.1 C1589.3,973.3 1589.4,970.6 1589.5,967.8 C1589.6,965.1 1589.7,962.3 1589.7,959.6 C1589.8,956.9 1589.9,954.2 1590.0,951.5 C1590.1,948.8 1590.2,946.1 1590.2,943.5 C1590.3,940.8 1590.4,938.2 1590.5,935.6 C1590.6,932.9 1590.7,930.3 1590.7,927.7 C1590.8,925.1 1590.9,922.6 1591.0,920.0 C1591.1,917.5 1591.2,914.9 1591.2,912.4 C1591.3,909.9 1591.4,907.4 1591.5,904.8 C1591.6,902.4 1591.7,899.9 1591.7,897.4 C1591.8,895.0 1591.9,892.5 1592.0,890.1 C1592.1,887.7 1592.2,885.3 1592.2,882.9 C1592.3,880.5 1592.4,878.1 1592.5,875.7 C1592.6,873.4 1592.7,871.0 1592.7,868.7 C1592.8,866.4 1592.9,864.1 1593.0,861.8 C1593.1,859.5 1593.2,857.2 1593.2,855.0 C1593.3,852.7 1593.4,850.5 1593.5,848.2 C1593.6,846.0 1593.7,843.8 1593.7,841.6 C1593.8,839.4 1593.9,837.3 1594.0,835.1 C1594.1,832.9 1594.2,830.8 1594.2,828.7 C1594.3,826.6 1594.4,824.4 1594.5,822.3 C1594.6,820.3 1594.7,818.2 1594.7,816.1 C1594.8,814.1 1594.9,812.0 1595.0,810.0 C1595.1,808.0 1595.2,806.0 1595.2,804.0 C1595.3,802.0 1595.4,800.0 1595.5,798.1 C1595.6,796.1 1595.7,794.2 1595.7,792.2 C1595.8,790.3 1595.9,788.4 1596.0,786.5 C1596.1,784.6 1596.1,782.7 1596.2,780.8 C1596.3,779.0 1596.4,777.1 1596.5,775.3 C1596.6,773.5 1596.6,771.7 1596.7,769.9 C1596.8,768.1 1596.9,766.3 1597.0,764.5 C1597.1,762.7 1597.1,761.0 1597.2,759.2 C1597.3,757.5 1597.4,755.8 1597.5,754.1 C1597.6,752.4 1597.6,750.7 1597.7,749.0 C1597.8,747.3 1597.9,745.6 1598.0,744.0 C1598.1,742.3 1598.1,740.7 1598.2,739.1 C1598.3,737.5 1598.4,735.9 1598.5,734.3 C1598.6,732.7 1598.6,731.1 1598.7,729.5 C1598.8,728.0 1598.9,726.4 1599.0,724.9 C1599.1,723.4 1599.1,721.8 1599.2,720.3 C1599.3,718.8 1599.4,717.3 1599.5,715.9 C1599.6,714.4 1599.6,712.9 1599.7,711.5 C1599.8,710.0 1599.9,708.6 1600.0,707.1 C1600.1,705.7 1600.1,704.3 1600.2,702.9 C1600.3,701.5 1600.4,700.1 1600.5,698.7 C1600.6,697.4 1600.6,696.0 1600.7,694.7 C1600.8,693.3 1600.9,692.0 1601.0,690.7 C1601.1,689.3 1601.1,688.0 1601.2,686.7 C1601.3,685.4 1601.4,684.2 1601.5,682.9 C1601.6,681.6 1601.6,680.4 1601.7,679.1 C1601.8,677.9 1601.9,676.6 1602.0,675.4 C1602.1,674.2 1602.1,673.0 1602.2,671.8 C1602.3,670.6 1602.4,669.4 1602.5,668.2 C1602.6,667.0 1602.6,665.8 1602.7,664.7 C1602.8,663.5 1602.9,662.4 1603.0,661.3 C1603.1,660.1 1603.1,659.0 1603.2,657.9 C1603.3,656.8 1603.4,655.7 1603.5,654.6 C1603.6,653.5 1603.6,652.4 1603.7,651.4 C1603.8,650.3 1603.9,649.2 1604.0,648.2 C1604.1,647.1 1604.1,646.1 1604.2,645.1 C1604.3,644.0 1604.4,643.0 1604.5,642.0 C1604.6,641.0 1604.6,640.0 1604.7,639.0 C1604.8,638.0 1604.9,637.1 1605.0,636.1 C1605.1,635.1 1605.1,634.2 1605.2,633.2 C1605.3,632.3 1605.4,631.3 1605.5,630.4 C1605.6,629.5 1605.6,628.5 1605.7,627.6 C1605.8,626.7 1605.9,625.8 1606.0,624.9 C1606.1,624.0 1606.1,623.1 1606.2,622.3 C1606.3,621.4 1606.4,620.5 1606.5,619.7 C1606.6,618.8 1606.6,618.0 1606.7,617.1 C1606.8,616.3 1606.9,615.4 1607.0,614.6 C1607.1,613.8 1607.1,613.0 1607.2,612.2 C1607.3,611.4 1607.4,610.6 1607.5,609.8 C1607.6,609.0 1607.6,608.2 1607.7,607.4 C1607.8,606.6 1607.9,605.9 1608.0,605.1 C1608.1,604.3 1608.1,603.6 1608.2,602.8 C1608.3,602.1 1608.4,601.4 1608.5,600.6 C1608.6,599.9 1608.6,599.2 1608.7,598.4 C1608.8,597.7 1608.9,597.0 1609.0,596.3 C1609.1,595.6 1609.1,594.9 1609.2,594.2 C1609.3,593.5 1609.4,592.9 1609.5,592.2 C1609.6,591.5 1609.6,591.0 1609.7,590.2 C1609.9,589.1 1610.1,587.6 1610.2,586.3 C1610.4,585.0 1610.6,583.8 1610.7,582.6 C1610.9,581.4 1611.1,580.2 1611.2,579.0 C1611.4,577.8 1611.6,576.7 1611.7,575.5 C1611.9,574.4 1612.1,573.3 1612.2,572.2 C1612.4,571.2 1612.6,570.1 1612.7,569.1 C1612.9,568.0 1613.1,567.0 1613.2,566.0 C1613.4,565.0 1613.6,564.0 1613.7,563.1 C1613.9,562.1 1614.1,561.2 1614.2,560.3 C1614.4,559.4 1614.6,558.5 1614.7,557.6 C1614.9,556.7 1615.1,555.8 1615.2,555.0 C1615.4,554.1 1615.6,553.3 1615.7,552.5 C1615.9,551.7 1616.1,550.9 1616.2,550.1 C1616.4,549.3 1616.6,548.5 1616.7,547.8 C1616.9,547.0 1617.1,546.3 1617.2,545.6 C1617.4,544.9 1617.6,544.2 1617.7,543.5 C1617.9,542.8 1618.1,542.1 1618.2,541.4 C1618.4,540.8 1618.5,540.2 1618.7,539.5 C1618.9,538.6 1619.2,537.6 1619.5,536.7 C1619.7,535.8 1620.0,534.9 1620.2,534.0 C1620.5,533.2 1620.7,532.3 1621.0,531.5 C1621.2,530.7 1621.5,530.0 1621.7,529.2 C1622.0,528.4 1622.2,527.7 1622.5,527.0 C1622.7,526.3 1623.0,525.6 1623.2,524.9 C1623.5,524.2 1623.7,523.6 1624.0,522.9 C1624.2,522.3 1624.4,521.7 1624.7,521.1 C1625.0,520.3 1625.4,519.5 1625.7,518.7 C1626.0,518.0 1626.4,517.3 1626.7,516.6 C1627.0,515.9 1627.4,515.3 1627.7,514.6 C1628.0,514.0 1628.4,513.4 1628.7,512.8 C1629.1,512.1 1629.5,511.3 1630.0,510.6 C1630.4,510.0 1630.8,509.3 1631.2,508.7 C1631.6,508.1 1632.0,507.5 1632.5,506.9 C1632.9,506.4 1633.3,505.9 1633.7,505.3 C1634.2,504.8 1634.7,504.1 1635.2,503.6 C1635.7,503.0 1636.2,502.5 1636.7,502.0 C1637.2,501.5 1637.7,501.1 1638.2,500.6 C1638.8,500.1 1639.4,499.6 1640.0,499.1 C1640.5,498.7 1641.1,498.2 1641.7,497.8 C1642.3,497.4 1642.9,497.0 1643.5,496.6 C1644.0,496.3 1644.6,495.9 1645.2,495.6 C1645.8,495.3 1646.5,494.9 1647.2,494.6 C1647.9,494.2 1648.5,493.9 1649.2,493.6 C1649.9,493.4 1650.5,493.1 1651.2,492.8 C1651.9,492.6 1652.5,492.4 1653.2,492.1 C1653.9,491.9 1654.5,491.7 1655.2,491.5 C1655.9,491.3 1656.5,491.1 1657.2,490.9 C1657.9,490.8 1658.5,490.6 1659.2,490.4 C1659.9,490.3 1660.5,490.1 1661.2,490.0 C1661.9,489.9 1662.5,489.7 1663.2,489.6 C1663.9,489.5 1664.5,489.4 1665.2,489.3 C1665.9,489.2 1666.5,489.1 1667.2,489.0 C1667.9,488.9 1668.5,488.8 1669.2,488.7 C1669.9,488.6 1670.5,488.5 1671.2,488.4 C1671.9,488.4 1672.5,488.3 1673.2,488.2 C1673.9,488.2 1674.5,488.1 1675.2,488.0 C1675.9,488.0 1676.5,487.9 1677.2,487.8 C1677.8,487.8 1678.5,487.7 1679.2,487.7 C1679.8,487.6 1680.5,487.6 1681.2,487.5 C1681.8,487.5 1682.5,487.5 1683.2,487.4 C1683.8,487.4 1684.5,487.3 1685.2,487.3 C1685.8,487.3 1686.5,487.2 1687.2,487.2 C1687.8,487.2 1688.5,487.1 1689.2,487.1 C1689.8,487.1 1690.5,487.1 1691.2,487.0 C1691.8,487.0 1692.5,487.0 1693.2,487.0 C1693.9,486.9 1694.7,486.9 1695.4,486.9 C1696.2,486.9 1696.9,486.8 1697.7,486.8 C1698.4,486.8 1699.2,486.8 1699.9,486.8 C1700.7,486.7 1701.4,486.7 1702.2,486.7 C1702.9,486.7 1703.7,486.7 1704.4,486.7 C1705.2,486.7 1705.9,486.6 1706.7,486.6 C1707.4,486.6 1708.2,486.6 1708.9,486.6 C1709.7,486.6 1710.4,486.6 1711.2,486.6 C1711.9,486.6 1712.7,486.6 1713.4,486.6 C1714.2,486.5 1714.9,486.5 1715.7,486.5 C1716.4,486.5 1717.2,486.5 1717.9,486.5 C1718.7,486.5 1719.4,486.5 1720.2,486.5 C1720.9,486.5 1721.7,486.5 1722.4,486.5 C1723.2,486.5 1723.9,486.5 1724.7,486.5 C1725.4,486.5 1726.2,486.5 1726.9,486.5 C1727.7,486.5 1728.4,486.5 1729.2,486.5 C1729.9,486.5 1730.6,486.5 1731.4,486.6 C1732.1,486.6 1732.9,486.6 1733.6,486.6 C1734.4,486.6 1735.1,486.6 1735.9,486.6 C1736.6,486.6 1737.4,486.6 1738.1,486.6 C1738.9,486.6 1739.6,486.6 1740.4,486.7 C1741.1,486.7 1741.9,486.7 1742.6,486.7 C1743.4,486.7 1744.1,486.7 1744.9,486.7 C1745.6,486.8 1746.4,486.8 1747.1,486.8 C1747.9,486.8 1748.6,486.8 1749.4,486.8 C1750.1,486.9 1750.9,486.9 1751.6,486.9 C1752.4,486.9 1753.2,487.0 1753.9,487.0 C1754.6,487.0 1755.2,487.0 1755.9,487.1 C1756.6,487.1 1757.2,487.1 1757.9,487.1 C1758.5,487.2 1759.2,487.2 1759.9,487.2 C1760.5,487.2 1761.2,487.3 1761.9,487.3 C1762.5,487.3 1763.2,487.4 1763.9,487.4 C1764.5,487.5 1765.2,487.5 1765.9,487.5 C1766.5,487.6 1767.2,487.6 1767.9,487.7 C1768.5,487.7 1769.2,487.8 1769.9,487.8 C1770.5,487.9 1771.2,487.9 1771.9,488.0 C1772.5,488.0 1773.2,488.1 1773.9,488.2 C1774.5,488.2 1775.2,488.3 1775.9,488.4 C1776.5,488.4 1777.2,488.5 1777.9,488.6 C1778.5,488.6 1779.2,488.7 1779.9,488.8 C1780.5,488.9 1781.2,489.0 1781.9,489.1 C1782.5,489.2 1783.2,489.3 1783.9,489.4 C1784.5,489.5 1785.2,489.6 1785.9,489.7 C1786.5,489.8 1787.2,490.0 1787.9,490.1 C1788.5,490.2 1789.2,490.4 1789.9,490.5 C1790.5,490.7 1791.2,490.8 1791.9,491.0 C1792.5,491.1 1793.2,491.3 1793.9,491.5 C1794.5,491.7 1795.2,491.9 1795.9,492.1 C1796.5,492.3 1797.2,492.5 1797.9,492.7 C1798.5,493.0 1799.2,493.2 1799.9,493.5 C1800.5,493.7 1801.2,494.0 1801.9,494.3 C1802.5,494.6 1803.2,494.9 1803.9,495.2 C1804.5,495.5 1805.2,495.9 1805.9,496.3 C1806.5,496.6 1807.0,496.9 1807.6,497.3 C1808.2,497.6 1808.8,498.0 1809.4,498.4 C1809.9,498.8 1810.5,499.2 1811.1,499.7 C1811.7,500.1 1812.3,500.6 1812.8,501.1 C1813.4,501.6 1814.0,502.1 1814.6,502.6 C1815.1,503.1 1815.6,503.6 1816.1,504.1 C1816.6,504.6 1817.1,505.1 1817.6,505.7 C1818.1,506.3 1818.6,506.9 1819.1,507.5 C1819.5,508.0 1819.9,508.5 1820.3,509.1 C1820.8,509.6 1821.2,510.2 1821.6,510.8 C1822.0,511.4 1822.4,512.0 1822.8,512.7 C1823.3,513.3 1823.7,514.0 1824.1,514.7 C1824.4,515.3 1824.8,515.8 1825.1,516.4 C1825.4,517.0 1825.8,517.6 1826.1,518.3 C1826.4,518.9 1826.8,519.6 1827.1,520.2 C1827.4,520.9 1827.8,521.6 1828.1,522.3 C1828.4,523.1 1828.8,523.8 1829.1,524.6 C1829.4,525.3 1829.8,526.2 1830.1,526.9 C1830.4,527.6 1830.6,528.2 1830.8,528.8 C1831.1,529.5 1831.3,530.1 1831.6,530.8 C1831.8,531.5 1832.1,532.2 1832.3,532.9 C1832.6,533.6 1832.8,534.3 1833.1,535.0 C1833.3,535.8 1833.6,536.5 1833.8,537.3 C1834.1,538.1 1834.3,538.9 1834.6,539.7 C1834.8,540.5 1835.1,541.3 1835.3,542.2 C1835.6,543.0 1835.8,543.9 1836.1,544.8 C1836.3,545.7 1836.6,546.6 1836.8,547.5 C1837.1,548.5 1837.4,549.5 1837.6,550.4 C1837.8,551.1 1837.9,551.7 1838.1,552.4 C1838.3,553.1 1838.4,553.8 1838.6,554.4 C1838.8,555.1 1838.9,555.9 1839.1,556.6 C1839.2,557.3 1839.4,558.0 1839.6,558.7 C1839.7,559.5 1839.9,560.2 1840.1,561.0 C1840.2,561.8 1840.4,562.5 1840.6,563.3 C1840.7,564.1 1840.9,564.9 1841.1,565.7 C1841.2,566.5 1841.4,567.3 1841.6,568.2 C1841.7,569.0 1841.9,569.9 1842.1,570.7 C1842.2,571.6 1842.4,572.5 1842.6,573.3 C1842.7,574.2 1842.9,575.1 1843.1,576.0 C1843.2,577.0 1843.4,577.9 1843.6,578.8 C1843.7,579.8 1843.9,580.7 1844.1,581.7 C1844.2,582.7 1844.4,583.7 1844.6,584.6 C1844.7,585.7 1844.9,586.7 1845.1,587.7 C1845.2,588.7 1845.4,589.8 1845.6,590.8 C1845.7,591.9 1845.9,593.0 1846.1,594.1 C1846.2,595.2 1846.4,596.3 1846.6,597.4 C1846.7,598.5 1846.9,599.7 1847.1,600.8 C1847.2,602.0 1847.4,603.2 1847.6,604.3 C1847.7,605.6 1847.9,606.8 1848.1,608.0 C1848.2,609.2 1848.4,610.5 1848.6,611.7 C1848.7,613.0 1848.9,614.3 1849.1,615.6 C1849.2,616.9 1849.4,618.4 1849.6,619.5 C1849.7,620.3 1849.7,620.9 1849.8,621.6 C1849.9,622.2 1850.0,622.9 1850.1,623.6 C1850.2,624.3 1850.2,625.0 1850.3,625.7 C1850.4,626.4 1850.5,627.1 1850.6,627.8 C1850.7,628.5 1850.7,629.2 1850.8,629.9 C1850.9,630.7 1851.0,631.4 1851.1,632.1 C1851.2,632.8 1851.2,633.6 1851.3,634.3 C1851.4,635.0 1851.5,635.8 1851.6,636.5 C1851.7,637.3 1851.7,638.0 1851.8,638.8 C1851.9,639.6 1852.0,640.3 1852.1,641.1 C1852.2,641.9 1852.2,642.6 1852.3,643.4 C1852.4,644.2 1852.5,645.0 1852.6,645.8 C1852.7,646.6 1852.7,647.4 1852.8,648.2 C1852.9,649.0 1853.0,649.8 1853.1,650.6 C1853.2,651.4 1853.2,652.2 1853.3,653.0 C1853.4,653.9 1853.5,654.7 1853.6,655.5 C1853.7,656.4 1853.7,657.2 1853.8,658.0 C1853.9,658.9 1854.0,659.7 1854.1,660.6 C1854.2,661.5 1854.2,662.3 1854.3,663.2 C1854.4,664.1 1854.5,664.9 1854.6,665.8 C1854.7,666.7 1854.7,667.6 1854.8,668.5 C1854.9,669.4 1855.0,670.3 1855.1,671.2 C1855.2,672.1 1855.2,673.0 1855.3,673.9 C1855.4,674.8 1855.5,675.7 1855.6,676.6 C1855.7,677.6 1855.7,678.5 1855.8,679.4 C1855.9,680.4 1856.0,681.3 1856.1,682.3 C1856.2,683.2 1856.2,684.2 1856.3,685.1 C1856.4,686.1 1856.5,687.1 1856.6,688.1 C1856.7,689.0 1856.7,690.0 1856.8,691.0 C1856.9,692.0 1857.0,693.0 1857.1,694.0 C1857.2,695.0 1857.2,696.0 1857.3,697.0 C1857.4,698.0 1857.5,699.0 1857.6,700.0 C1857.7,701.1 1857.7,702.1 1857.8,703.1 C1857.9,704.2 1858.0,705.2 1858.1,706.3 C1858.2,707.3 1858.2,708.4 1858.3,709.4 C1858.4,710.5 1858.5,711.6 1858.6,712.6 C1858.7,713.7 1858.7,714.8 1858.8,715.9 C1858.9,717.0 1859.0,718.1 1859.1,719.1 C1859.2,720.3 1859.2,721.4 1859.3,722.5 C1859.4,723.6 1859.5,724.7 1859.6,725.8 C1859.7,727.0 1859.7,728.1 1859.8,729.2 C1859.9,730.4 1860.0,731.5 1860.1,732.7 C1860.2,733.8 1860.2,735.0 1860.3,736.1 C1860.4,737.3 1860.5,738.5 1860.6,739.6 C1860.7,740.8 1860.7,742.0 1860.8,743.2 C1860.9,744.4 1861.0,745.6 1861.1,746.8 C1861.2,748.0 1861.2,749.2 1861.3,750.4 C1861.4,751.6 1861.5,752.8 1861.6,754.1 C1861.7,755.3 1861.7,756.5 1861.8,757.8 C1861.9,759.0 1862.0,760.3 1862.1,761.5 C1862.2,762.8 1862.2,764.0 1862.3,765.3 C1862.4,766.6 1862.5,767.9 1862.6,769.1 C1862.7,770.4 1862.7,771.7 1862.8,773.0 C1862.9,774.3 1863.0,775.6 1863.1,776.9 C1863.2,778.2 1863.2,779.5 1863.3,780.8 C1863.4,782.2 1863.5,783.5 1863.6,784.8 C1863.7,786.1 1863.7,787.5 1863.8,788.8 C1863.9,790.2 1864.0,791.5 1864.1,792.9 C1864.1,794.2 1864.2,795.6 1864.3,797.0 C1864.4,798.3 1864.5,799.7 1864.6,801.1 C1864.6,802.5 1864.7,803.9 1864.8,805.3 C1864.9,806.7 1865.0,808.1 1865.1,809.5 C1865.1,810.9 1865.2,812.3 1865.3,813.7 C1865.4,815.1 1865.5,816.6 1865.6,818.0 C1865.6,819.4 1865.7,820.9 1865.8,822.3 C1865.9,823.8 1866.0,825.2 1866.1,826.7 C1866.1,828.1 1866.2,829.6 1866.3,831.1 C1866.4,832.5 1866.5,834.0 1866.6,835.5 C1866.6,837.0 1866.7,838.5 1866.8,839.9 C1866.9,841.4 1867.0,842.9 1867.1,844.4 C1867.1,845.9 1867.2,847.5 1867.3,849.0 C1867.4,850.5 1867.5,852.0 1867.6,853.5 C1867.6,855.1 1867.7,856.6 1867.8,858.1 C1867.9,859.7 1868.0,861.2 1868.1,862.7 C1868.1,864.3 1868.2,865.9 1868.3,867.4 C1868.4,869.0 1868.5,870.5 1868.6,872.1 C1868.6,873.7 1868.7,875.2 1868.8,876.8 C1868.9,878.4 1869.0,880.0 1869.1,881.6 C1869.1,883.2 1869.2,884.8 1869.3,886.3 C1869.4,887.9 1869.5,889.5 1869.6,891.2 C1869.6,892.8 1869.7,894.4 1869.8,896.0 C1869.9,897.6 1870.0,899.2 1870.1,900.8 C1870.1,902.5 1870.2,904.1 1870.3,905.7 C1870.4,907.4 1870.5,909.0 1870.6,910.6 C1870.6,912.3 1870.7,913.9 1870.8,915.6 C1870.9,917.2 1871.0,918.9 1871.1,920.5 C1871.1,922.2 1871.2,923.9 1871.3,925.5 C1871.4,927.2 1871.5,928.8 1871.6,930.5 C1871.6,932.2 1871.7,933.9 1871.8,935.5 C1871.9,937.2 1872.0,938.9 1872.1,940.6 C1872.1,942.3 1872.2,943.9 1872.3,945.6 C1872.4,947.3 1872.5,949.0 1872.6,950.7 C1872.6,952.4 1872.7,954.1 1872.8,955.8 C1872.9,957.5 1873.0,959.2 1873.1,960.9 C1873.1,962.6 1873.2,964.3 1873.3,966.0 C1873.4,967.7 1873.5,969.4 1873.6,971.1 C1873.6,972.8 1873.7,974.5 1873.8,976.3 C1873.9,978.0 1874.0,979.7 1874.1,981.4 C1874.1,983.1 1874.2,984.8 1874.3,986.5 C1874.4,988.3 1874.5,990.0 1874.6,991.7 C1874.6,993.4 1874.7,995.1 1874.8,996.8 C1874.9,998.6 1875.0,1000.3 1875.1,1002.0 C1875.1,1003.7 1875.2,1005.4 1875.3,1007.2 C1875.4,1008.9 1875.5,1010.6 1875.6,1012.3 C1875.6,1014.0 1875.7,1015.7 1875.8,1017.5 C1875.9,1019.2 1876.0,1020.9 1876.1,1022.6 C1876.1,1024.3 1876.2,1026.0 1876.3,1027.7 C1876.4,1029.5 1876.5,1031.2 1876.6,1032.9 C1876.6,1034.6 1876.7,1036.3 1876.8,1038.0 C1876.9,1039.7 1877.0,1041.4 1877.1,1043.1 C1877.1,1044.8 1877.2,1046.5 1877.3,1048.2 C1877.4,1049.9 1877.5,1051.6 1877.6,1053.3 C1877.6,1054.9 1877.7,1056.6 1877.8,1058.3 C1877.9,1060.0 1878.0,1061.7 1878.1,1063.3 C1878.1,1065.0 1878.2,1066.7 1878.3,1068.3 C1878.4,1070.0 1878.5,1071.7 1878.6,1073.3 C1878.6,1075.0 1878.7,1076.6 1878.8,1078.3 C1878.9,1079.9 1879.0,1081.6 1879.1,1083.2 C1879.1,1084.8 1879.2,1086.5 1879.3,1088.1 C1879.4,1089.7 1879.5,1091.3 1879.6,1092.9 C1879.6,1094.5 1879.7,1096.1 1879.8,1097.7 C1879.9,1099.3 1880.0,1100.9 1880.1,1102.5 C1880.1,1104.1 1880.2,1105.7 1880.3,1107.2 C1880.4,1108.8 1880.5,1110.4 1880.6,1111.9 C1880.6,1113.5 1880.7,1115.0 1880.8,1116.6 C1880.9,1118.1 1881.0,1119.6 1881.1,1121.2 C1881.1,1122.7 1881.2,1124.2 1881.3,1125.7 C1881.4,1127.2 1881.5,1128.7 1881.6,1130.2 C1881.6,1131.6 1881.7,1133.1 1881.8,1134.6 C1881.9,1136.0 1882.0,1137.5 1882.1,1138.9 C1882.1,1140.4 1882.2,1141.8 1882.3,1143.2 C1882.4,1144.6 1882.5,1146.1 1882.6,1147.5 C1882.6,1148.9 1882.7,1150.2 1882.8,1151.6 C1882.9,1153.0 1883.0,1154.3 1883.1,1155.7 C1883.1,1157.0 1883.2,1158.4 1883.3,1159.7 C1883.4,1161.0 1883.5,1162.3 1883.6,1163.6 C1883.6,1164.9 1883.7,1166.2 1883.8,1167.5 C1883.9,1168.7 1884.0,1170.0 1884.1,1171.2 C1884.1,1172.4 1884.2,1173.8 1884.3,1174.8 C1884.4,1175.6 1884.4,1176.2 1884.4,1176.9 C1884.5,1177.6 1884.5,1178.4 1884.6,1179.1 C1884.7,1179.9 1884.7,1180.6 1884.8,1181.4 C1884.8,1182.1 1884.9,1182.8 1884.9,1183.5 C1885.0,1184.3 1885.0,1185.0 1885.1,1185.7 C1885.1,1186.4 1885.2,1187.1 1885.2,1187.8 C1885.3,1188.5 1885.3,1189.2 1885.4,1189.9 C1885.5,1190.5 1885.5,1191.2 1885.6,1191.9 C1885.6,1192.6 1885.7,1193.4 1885.7,1194.1 C1885.8,1194.8 1885.9,1195.5 1885.9,1196.3 C1886.0,1197.0 1886.0,1197.7 1886.1,1198.4 C1886.2,1199.0 1886.2,1199.7 1886.3,1200.4 C1886.3,1201.1 1886.4,1201.9 1886.5,1202.6 C1886.5,1203.3 1886.6,1204.0 1886.7,1204.7 C1886.7,1205.4 1886.8,1206.1 1886.9,1206.8 C1887.0,1207.5 1887.0,1208.2 1887.1,1208.9 C1887.2,1209.6 1887.2,1210.3 1887.3,1210.9 C1887.4,1211.6 1887.5,1212.3 1887.6,1213.0 C1887.6,1213.7 1887.7,1214.4 1887.8,1215.0 C1887.9,1215.7 1888.0,1216.3 1888.1,1217.0 C1888.2,1217.7 1888.3,1218.4 1888.4,1219.1 C1888.5,1219.8 1888.6,1220.4 1888.7,1221.1 C1888.8,1221.8 1888.9,1222.4 1889.1,1223.1 C1889.2,1223.7 1889.3,1224.5 1889.6,1225.0 C1889.8,1225.6 1889.9,1226.3 1890.3,1226.4 C1890.7,1226.5 1891.5,1225.8 1891.9,1225.3 C1892.3,1224.8 1892.5,1224.1 1892.7,1223.5 C1893.0,1222.9 1893.2,1222.2 1893.4,1221.6 C1893.5,1220.9 1893.7,1220.3 1893.9,1219.6 C1894.0,1218.9 1894.2,1218.3 1894.3,1217.6 C1894.4,1217.0 1894.6,1216.3 1894.7,1215.6 C1894.8,1214.9 1894.9,1214.2 1895.0,1213.5 C1895.1,1212.8 1895.3,1212.1 1895.4,1211.5 C1895.5,1210.8 1895.6,1210.1 1895.7,1209.4 C1895.8,1208.7 1895.8,1208.1 1895.9,1207.4 C1896.0,1206.7 1896.1,1206.1 1896.2,1205.4 C1896.3,1204.6 1896.4,1203.6 1896.5,1202.7 C1896.6,1202.0 1896.7,1201.3 1896.8,1200.6 C1896.9,1199.9 1896.9,1199.1 1897.0,1198.4 C1897.1,1197.6 1897.2,1196.8 1897.3,1196.0 C1897.4,1195.2 1897.4,1194.4 1897.5,1193.6 C1897.6,1192.8 1897.7,1191.9 1897.8,1191.1 C1897.9,1190.2 1897.9,1189.3 1898.0,1188.5 C1898.1,1187.6 1898.2,1186.7 1898.3,1185.7 C1898.4,1184.8 1898.4,1183.9 1898.5,1182.9 C1898.6,1182.0 1898.7,1181.0 1898.8,1180.0 C1898.9,1179.1 1898.9,1178.1 1899.0,1177.1 C1899.1,1176.0 1899.2,1175.0 1899.3,1174.0 C1899.4,1172.9 1899.4,1171.9 1899.5,1170.8 C1899.6,1169.7 1899.7,1168.7 1899.8,1167.6 C1899.8,1166.5 1899.9,1165.3 1900.0,1164.2 C1900.1,1163.1 1900.2,1161.9 1900.3,1160.8 C1900.3,1159.6 1900.4,1158.5 1900.5,1157.3 C1900.6,1156.1 1900.7,1154.9 1900.8,1153.7 C1900.8,1152.5 1900.9,1151.3 1901.0,1150.0 C1901.1,1148.8 1901.2,1147.5 1901.3,1146.3 C1901.3,1145.0 1901.4,1143.7 1901.5,1142.5 C1901.6,1141.2 1901.7,1139.9 1901.8,1138.5 C1901.8,1137.2 1901.9,1135.9 1902.0,1134.6 C1902.1,1133.2 1902.2,1131.9 1902.3,1130.5 C1902.3,1129.2 1902.4,1127.8 1902.5,1126.4 C1902.6,1125.0 1902.7,1123.6 1902.8,1122.2 C1902.8,1120.8 1902.9,1119.4 1903.0,1118.0 C1903.1,1116.5 1903.2,1115.1 1903.3,1113.6 C1903.3,1112.2 1903.4,1110.7 1903.5,1109.3 C1903.6,1107.8 1903.7,1106.3 1903.8,1104.8 C1903.8,1103.3 1903.9,1101.8 1904.0,1100.3 C1904.1,1098.8 1904.2,1097.3 1904.2,1095.8 C1904.3,1094.2 1904.4,1092.7 1904.5,1091.1 C1904.6,1089.6 1904.7,1088.0 1904.7,1086.5 C1904.8,1084.9 1904.9,1083.3 1905.0,1081.8 C1905.1,1080.2 1905.2,1078.6 1905.2,1077.0 C1905.3,1075.4 1905.4,1073.8 1905.5,1072.2 C1905.6,1070.6 1905.7,1069.0 1905.7,1067.4 C1905.8,1065.7 1905.9,1064.1 1906.0,1062.5 C1906.1,1060.8 1906.2,1059.2 1906.2,1057.5 C1906.3,1055.9 1906.4,1054.2 1906.5,1052.6 C1906.6,1050.9 1906.7,1049.3 1906.7,1047.6 C1906.8,1045.9 1906.9,1044.2 1907.0,1042.6 C1907.1,1040.9 1907.2,1039.2 1907.2,1037.5 C1907.3,1035.8 1907.4,1034.1 1907.5,1032.4 C1907.6,1030.7 1907.7,1029.0 1907.7,1027.3 C1907.8,1025.6 1907.9,1023.9 1908.0,1022.2 C1908.1,1020.5 1908.2,1018.7 1908.2,1017.0 C1908.3,1015.3 1908.4,1013.6 1908.5,1011.8 C1908.6,1010.1 1908.6,1008.4 1908.7,1006.7 C1908.8,1004.9 1908.9,1003.2 1909.0,1001.5 C1909.1,999.7 1909.1,998.0 1909.2,996.2 C1909.3,994.5 1909.4,992.8 1909.5,991.0 C1909.6,989.3 1909.6,987.5 1909.7,985.8 C1909.8,984.0 1909.9,982.3 1910.0,980.5 C1910.1,978.8 1910.1,977.0 1910.2,975.3 C1910.3,973.5 1910.4,971.8 1910.5,970.0 C1910.6,968.3 1910.6,966.5 1910.7,964.8 C1910.8,963.0 1910.9,961.3 1911.0,959.6 C1911.1,957.8 1911.1,956.1 1911.2,954.3 C1911.3,952.6 1911.4,950.8 1911.5,949.1 C1911.6,947.3 1911.6,945.6 1911.7,943.8 C1911.8,942.1 1911.9,940.4 1912.0,938.6 C1912.1,936.9 1912.1,935.1 1912.2,933.4 C1912.3,931.7 1912.4,929.9 1912.5,928.2 C1912.6,926.5 1912.6,924.7 1912.7,923.0 C1912.8,921.3 1912.9,919.6 1913.0,917.8 C1913.0,916.1 1913.1,914.4 1913.2,912.7 C1913.3,911.0 1913.4,909.3 1913.5,907.6 C1913.5,905.8 1913.6,904.1 1913.7,902.4 C1913.8,900.7 1913.9,899.0 1914.0,897.3 C1914.0,895.6 1914.1,894.0 1914.2,892.3 C1914.3,890.6 1914.4,888.9 1914.5,887.2 C1914.5,885.5 1914.6,883.9 1914.7,882.2 C1914.8,880.5 1914.9,878.9 1915.0,877.2 C1915.0,875.5 1915.1,873.9 1915.2,872.2 C1915.3,870.6 1915.4,868.9 1915.5,867.3 C1915.5,865.6 1915.6,864.0 1915.7,862.4 C1915.8,860.7 1915.9,859.1 1916.0,857.5 C1916.0,855.9 1916.1,854.2 1916.2,852.6 C1916.3,851.0 1916.4,849.4 1916.5,847.8 C1916.5,846.2 1916.6,844.6 1916.7,843.0 C1916.8,841.4 1916.9,839.9 1917.0,838.3 C1917.0,836.7 1917.1,835.1 1917.2,833.6 C1917.3,832.0 1917.4,830.4 1917.5,828.9"/>
<path stroke="#0000ff" d="M352.6,622.2 C353.4,622.2 353.8,622.2 355.0,622.1 C358.3,621.9 368.3,621.5 373.8,620.3 C378.3,619.3 381.1,618.0 385.7,616.1 C392.3,613.3 401.6,608.3 409.5,604.2 C417.5,600.0 425.4,595.6 433.3,591.1 C441.3,586.5 449.2,581.6 457.1,576.8 C465.1,572.0 473.0,567.3 481.0,562.5 C488.9,557.8 496.9,553.2 504.8,548.3 C512.8,543.3 520.6,537.8 528.6,532.8 C536.5,527.9 544.5,523.2 552.4,518.5 C560.3,513.8 568.2,508.7 576.2,504.4 C584.0,500.2 592.4,496.2 600.0,492.8 C606.9,489.7 613.0,487.2 620.0,484.6 C627.4,481.8 634.6,479.0 643.3,476.6 C653.9,473.8 667.1,471.5 679.0,469.5 C690.9,467.5 702.8,465.7 714.8,464.7 C726.7,463.7 738.6,463.6 750.5,463.6 C762.4,463.6 773.7,464.4 786.2,464.8 C800.1,465.1 812.4,465.1 830.0,465.6 C856.6,466.2 894.5,467.3 930.0,468.5 C970.5,469.9 1016.7,472.0 1060.0,473.2 C1103.3,474.5 1146.7,475.4 1190.0,476.2 C1233.3,477.0 1275.9,477.5 1320.0,478.0 C1365.8,478.6 1413.1,479.1 1460.0,479.5 C1507.2,479.9 1591.7,480.3 1602.2,480.4 C1603.6,480.4 1603.7,480.4 1604.5,480.4 C1605.2,480.4 1606.0,480.4 1606.7,480.4 C1607.5,480.4 1608.2,480.5 1609.0,480.5 C1609.7,480.5 1610.5,480.5 1611.2,480.5 C1612.0,480.5 1612.7,480.5 1613.5,480.5 C1614.2,480.5 1615.0,480.5 1615.7,480.6 C1616.5,480.6 1617.2,480.6 1618.0,480.6 C1618.7,480.6 1619.5,480.6 1620.2,480.6 C1621.0,480.6 1621.7,480.6 1622.5,480.6 C1623.2,480.7 1624.0,480.7 1624.7,480.7 C1625.5,480.7 1626.2,480.7 1627.0,480.7 C1627.7,480.7 1628.5,480.7 1629.2,480.7 C1630.0,480.7 1630.7,480.8 1631.5,480.8 C1632.2,480.8 1633.0,480.8 1633.7,480.8 C1634.5,480.8 1635.2,480.8 1636.0,480.8 C1636.7,480.8 1637.5,480.9 1638.2,480.9 C1639.0,480.9 1639.7,480.9 1640.5,480.9 C1641.2,480.9 1642.0,480.9 1642.7,480.9 C1643.5,480.9 1644.2,481.0 1645.0,481.0 C1645.7,481.0 1646.5,481.0 1647.2,481.0 C1648.0,481.0 1648.7,481.0 1649.5,481.0 C1650.2,481.0 1650.9,481.1 1651.7,481.1 C1652.4,481.1 1653.2,481.1 1653.9,481.1 C1654.7,481.1 1655.4,481.1 1656.2,481.1 C1656.9,481.2 1657.7,481.2 1658.4,481.2 C1659.2,481.2 1659.9,481.2 1660.7,481.2 C1661.4,481.2 1662.2,481.2 1662.9,481.3 C1663.7,481.3 1664.4,481.3 1665.2,481.3 C1665.9,481.3 1666.7,481.3 1667.4,481.3 C1668.2,481.3 1668.9,481.4 1669.7,481.4 C1670.4,481.4 1671.2,481.4 1671.9,481.4 C1672.7,481.4 1673.4,481.4 1674.2,481.5 C1674.9,481.5 1675.7,481.5 1676.4,481.5 C1677.2,481.5 1677.9,481.5 1678.7,481.5 C1679.4,481.6 1680.2,481.6 1680.9,481.6 C1681.7,481.6 1682.4,481.6 1683.2,481.6 C1683.9,481.7 1684.7,481.7 1685.4,481.7 C1686.2,481.7 1686.9,481.7 1687.7,481.7 C1688.4,481.8 1689.2,481.8 1689.9,481.8 C1690.7,481.8 1691.4,481.8 1692.2,481.9 C1692.9,481.9 1693.7,481.9 1694.4,481.9 C1695.2,481.9 1695.9,482.0 1696.7,482.0 C1697.4,482.0 1698.2,482.0 1698.9,482.0 C1699.7,482.1 1700.4,482.1 1701.1,482.1 C1701.9,482.1 1702.6,482.1 1703.4,482.2 C1704.1,482.2 1704.9,482.2 1705.6,482.2 C1706.4,482.2 1707.1,482.2 1707.9,482.3 C1708.6,482.3 1709.4,482.3 1710.1,482.3 C1710.9,482.3 1711.6,482.4 1712.4,482.4 C1713.1,482.4 1713.9,482.4 1714.6,482.5 C1715.4,482.5 1716.1,482.5 1716.9,482.5 C1717.6,482.6 1718.4,482.6 1719.1,482.6 C1719.9,482.7 1720.7,482.7 1721.4,482.7 C1722.1,482.8 1722.7,482.8 1723.4,482.8 C1724.0,482.9 1724.7,482.9 1725.4,482.9 C1726.0,483.0 1726.7,483.0 1727.4,483.0 C1728.0,483.1 1728.7,483.1 1729.4,483.2 C1730.0,483.2 1730.7,483.3 1731.4,483.3 C1732.0,483.3 1732.7,483.4 1733.4,483.4 C1734.0,483.5 1734.7,483.6 1735.4,483.6 C1736.0,483.7 1736.7,483.7 1737.4,483.8 C1738.0,483.8 1738.7,483.9 1739.4,484.0 C1740.0,484.0 1740.7,484.1 1741.4,484.2 C1742.0,484.3 1742.7,484.3 1743.4,484.4 C1744.0,484.5 1744.7,484.6 1745.4,484.7 C1746.0,484.8 1746.7,484.9 1747.4,485.0 C1748.0,485.1 1748.7,485.2 1749.4,485.3 C1750.0,485.4 1750.7,485.5 1751.3,485.6 C1752.0,485.7 1752.7,485.9 1753.3,486.0 C1754.0,486.1 1754.7,486.3 1755.3,486.4 C1756.0,486.6 1756.7,486.7 1757.3,486.9 C1758.0,487.1 1758.7,487.2 1759.3,487.4 C1760.0,487.6 1760.7,487.8 1761.3,488.0 C1762.0,488.2 1762.7,488.4 1763.3,488.7 C1764.0,488.9 1764.7,489.1 1765.3,489.4 C1766.0,489.7 1766.7,489.9 1767.3,490.2 C1768.0,490.5 1768.7,490.8 1769.3,491.2 C1770.0,491.5 1770.7,491.8 1771.3,492.2 C1771.9,492.5 1772.5,492.9 1773.1,493.2 C1773.7,493.6 1774.2,493.9 1774.8,494.3 C1775.4,494.7 1776.0,495.2 1776.6,495.6 C1777.2,496.0 1777.8,496.5 1778.3,497.0 C1778.8,497.4 1779.3,497.9 1779.8,498.3 C1780.3,498.8 1780.8,499.3 1781.3,499.8 C1781.8,500.3 1782.3,500.8 1782.8,501.4 C1783.3,502.0 1783.8,502.6 1784.3,503.2 C1784.8,503.7 1785.2,504.2 1785.6,504.8 C1786.0,505.3 1786.4,505.9 1786.8,506.5 C1787.2,507.1 1787.7,507.8 1788.1,508.4 C1788.5,509.1 1788.9,509.8 1789.3,510.5 C1789.7,511.1 1790.0,511.7 1790.3,512.3 C1790.6,512.9 1791.0,513.5 1791.3,514.2 C1791.6,514.8 1792.0,515.5 1792.3,516.2 C1792.6,516.9 1793.0,517.6 1793.3,518.4 C1793.6,519.1 1794.0,520.0 1794.3,520.7 C1794.6,521.4 1794.8,521.9 1795.1,522.6 C1795.3,523.2 1795.6,523.9 1795.8,524.5 C1796.1,525.2 1796.3,525.9 1796.6,526.6 C1796.8,527.3 1797.1,528.0 1797.3,528.7 C1797.6,529.5 1797.8,530.3 1798.1,531.0 C1798.3,531.8 1798.6,532.6 1798.8,533.4 C1799.1,534.3 1799.3,535.1 1799.6,536.0 C1799.8,536.8 1800.1,537.7 1800.3,538.6 C1800.6,539.6 1800.8,540.6 1801.1,541.4 C1801.2,542.2 1801.4,542.7 1801.6,543.4 C1801.7,544.1 1801.9,544.8 1802.0,545.4 C1802.2,546.1 1802.4,546.8 1802.5,547.5 C1802.7,548.3 1802.9,549.0 1803.0,549.7 C1803.2,550.5 1803.4,551.2 1803.5,552.0 C1803.7,552.7 1803.9,553.5 1804.0,554.3 C1804.2,555.1 1804.4,555.9 1804.5,556.7 C1804.7,557.5 1804.9,558.4 1805.0,559.2 C1805.2,560.1 1805.4,560.9 1805.5,561.8 C1805.7,562.7 1805.9,563.6 1806.0,564.5 C1806.2,565.4 1806.4,566.4 1806.5,567.3 C1806.7,568.2 1806.9,569.2 1807.0,570.2 C1807.2,571.2 1807.4,572.2 1807.5,573.2 C1807.7,574.2 1807.9,575.2 1808.0,576.3 C1808.2,577.3 1808.4,578.4 1808.5,579.5 C1808.7,580.6 1808.9,581.7 1809.0,582.8 C1809.2,583.9 1809.4,585.1 1809.5,586.2 C1809.7,587.4 1809.9,588.6 1810.0,589.8 C1810.2,591.0 1810.4,592.2 1810.5,593.5 C1810.7,594.7 1810.9,596.0 1811.0,597.3 C1811.2,598.6 1811.4,600.1 1811.5,601.2 C1811.6,602.0 1811.7,602.6 1811.8,603.3 C1811.9,603.9 1812.0,604.6 1812.0,605.3 C1812.1,606.0 1812.2,606.7 1812.3,607.4 C1812.4,608.1 1812.5,608.8 1812.5,609.6 C1812.6,610.3 1812.7,611.0 1812.8,611.7 C1812.9,612.5 1813.0,613.2 1813.0,613.9 C1813.1,614.7 1813.2,615.4 1813.3,616.2 C1813.4,616.9 1813.5,617.7 1813.5,618.5 C1813.6,619.2 1813.7,620.0 1813.8,620.8 C1813.9,621.6 1814.0,622.4 1814.0,623.2 C1814.1,624.0 1814.2,624.8 1814.3,625.6 C1814.4,626.4 1814.5,627.2 1814.5,628.0 C1814.6,628.9 1814.7,629.7 1814.8,630.5 C1814.9,631.4 1815.0,632.2 1815.0,633.1 C1815.1,633.9 1815.2,634.8 1815.3,635.6 C1815.4,636.5 1815.5,637.4 1815.5,638.3 C1815.6,639.1 1815.7,640.0 1815.8,640.9 C1815.9,641.8 1816.0,642.7 1816.0,643.6 C1816.1,644.5 1816.2,645.5 1816.3,646.4 C1816.4,647.3 1816.5,648.3 1816.5,649.2 C1816.6,650.1 1816.7,651.1 1816.8,652.0 C1816.9,653.0 1817.0,654.0 1817.0,654.9 C1817.1,655.9 1817.2,656.9 1817.3,657.9 C1817.4,658.9 1817.5,659.9 1817.5,660.9 C1817.6,661.9 1817.7,662.9 1817.8,663.9 C1817.9,665.0 1818.0,666.0 1818.0,667.0 C1818.1,668.1 1818.2,669.1 1818.3,670.2 C1818.4,671.2 1818.5,672.3 1818.5,673.4 C1818.6,674.5 1818.7,675.5 1818.8,676.6 C1818.9,677.7 1818.9,678.8 1819.0,679.9 C1819.1,681.0 1819.2,682.2 1819.3,683.3 C1819.4,684.4 1819.4,685.6 1819.5,686.7 C1819.6,687.8 1819.7,689.0 1819.8,690.2 C1819.9,691.3 1819.9,692.5 1820.0,693.7 C1820.1,694.9 1820.2,696.1 1820.3,697.3 C1820.4,698.5 1820.4,699.7 1820.5,700.9 C1820.6,702.1 1820.7,703.3 1820.8,704.6 C1820.9,705.8 1820.9,707.1 1821.0,708.3 C1821.1,709.6 1821.2,710.9 1821.3,712.1 C1821.4,713.4 1821.4,714.7 1821.5,716.0 C1821.6,717.3 1821.7,718.6 1821.8,719.9 C1821.9,721.3 1821.9,722.6 1822.0,723.9 C1822.1,725.3 1822.2,726.6 1822.3,728.0 C1822.4,729.3 1822.4,730.7 1822.5,732.1 C1822.6,733.5 1822.7,734.8 1822.8,736.2 C1822.9,737.6 1822.9,739.1 1823.0,740.5 C1823.1,741.9 1823.2,743.3 1823.3,744.8 C1823.4,746.2 1823.4,747.7 1823.5,749.1 C1823.6,750.6 1823.7,752.1 1823.8,753.5 C1823.9,755.0 1823.9,756.5 1824.0,758.0 C1824.1,759.5 1824.2,761.1 1824.3,762.6 C1824.4,764.1 1824.4,765.6 1824.5,767.2 C1824.6,768.7 1824.7,770.3 1824.8,771.9 C1824.9,773.4 1824.9,775.0 1825.0,776.6 C1825.1,778.2 1825.2,779.8 1825.3,781.4 C1825.4,783.0 1825.4,784.7 1825.5,786.3 C1825.6,787.9 1825.7,789.6 1825.8,791.2 C1825.9,792.9 1825.9,794.6 1826.0,796.2 C1826.1,797.9 1826.2,799.6 1826.3,801.3 C1826.4,803.0 1826.4,804.7 1826.5,806.5 C1826.6,808.2 1826.7,809.9 1826.8,811.7 C1826.9,813.4 1826.9,815.2 1827.0,816.9 C1827.1,818.7 1827.2,820.5 1827.3,822.3 C1827.4,824.1 1827.4,825.9 1827.5,827.7 C1827.6,829.5 1827.7,831.3 1827.8,833.2 C1827.9,835.0 1827.9,836.8 1828.0,838.7 C1828.1,840.6 1828.2,842.4 1828.3,844.3 C1828.4,846.2 1828.4,848.1 1828.5,850.0 C1828.6,851.9 1828.7,853.8 1828.8,855.7 C1828.9,857.6 1828.9,859.6 1829.0,861.5 C1829.1,863.5 1829.2,865.4 1829.3,867.4 C1829.4,869.3 1829.4,871.3 1829.5,873.3 C1829.6,875.3 1829.7,877.3 1829.8,879.3 C1829.9,881.3 1829.9,883.3 1830.0,885.4 C1830.1,887.4 1830.2,889.4 1830.3,891.5 C1830.4,893.5 1830.4,895.6 1830.5,897.7 C1830.6,899.8 1830.7,901.8 1830.8,903.9 C1830.9,906.0 1830.9,908.1 1831.0,910.2 C1831.1,912.4 1831.2,914.5 1831.3,916.6 C1831.4,918.7 1831.4,920.9 1831.5,923.0 C1831.6,925.2 1831.7,927.3 1831.8,929.5 C1831.9,931.7 1831.9,933.9 1832.0,936.1 C1832.1,938.3 1832.2,940.5 1832.3,942.7 C1832.4,944.9 1832.4,947.1 1832.5,949.3 C1832.6,951.5 1832.7,953.8 1832.8,956.0 C1832.9,958.3 1832.9,960.5 1833.0,962.8 C1833.1,965.0 1833.2,967.3 1833.3,969.6 C1833.4,971.9 1833.4,974.1 1833.5,976.4 C1833.6,978.7 1833.7,981.0 1833.8,983.3 C1833.9,985.6 1833.9,988.0 1834.0,990.3 C1834.1,992.6 1834.2,994.9 1834.3,997.3 C1834.4,999.6 1834.4,1001.9 1834.5,1004.3 C1834.6,1006.6 1834.7,1009.0 1834.8,1011.4 C1834.9,1013.7 1834.9,1016.1 1835.0,1018.5 C1835.1,1020.8 1835.2,1023.2 1835.3,1025.6 C1835.3,1028.0 1835.4,1030.4 1835.5,1032.8 C1835.6,1035.2 1835.7,1037.6 1835.8,1040.0 C1835.8,1042.4 1835.9,1044.8 1836.0,1047.2 C1836.1,1049.6 1836.2,1052.0 1836.3,1054.5 C1836.3,1056.9 1836.4,1059.3 1836.5,1061.7 C1836.6,1064.2 1836.7,1066.6 1836.8,1069.0 C1836.8,1071.5 1836.9,1073.9 1837.0,1076.3 C1837.1,1078.8 1837.2,1081.2 1837.3,1083.7 C1837.3,1086.1 1837.4,1088.6 1837.5,1091.0 C1837.6,1093.4 1837.7,1095.9 1837.8,1098.3 C1837.8,1100.8 1837.9,1103.2 1838.0,1105.7 C1838.1,1108.1 1838.2,1110.6 1838.3,1113.0 C1838.3,1115.5 1838.4,1117.9 1838.5,1120.4 C1838.6,1122.8 1838.7,1125.2 1838.8,1127.7 C1838.8,1130.1 1838.9,1132.6 1839.0,1135.0 C1839.1,1137.4 1839.2,1139.9 1839.3,1142.3 C1839.3,1144.7 1839.4,1147.2 1839.5,1149.6 C1839.6,1152.0 1839.7,1154.4 1839.8,1156.9 C1839.8,1159.3 1839.9,1161.7 1840.0,1164.1 C1840.1,1166.5 1840.2,1168.9 1840.3,1171.3 C1840.3,1173.7 1840.4,1176.1 1840.5,1178.5 C1840.6,1180.9 1840.7,1183.2 1840.8,1185.6 C1840.8,1188.0 1840.9,1190.3 1841.0,1192.7 C1841.1,1195.0 1841.2,1197.4 1841.3,1199.7 C1841.3,1202.1 1841.4,1204.4 1841.5,1206.7 C1841.6,1209.0 1841.7,1211.3 1841.8,1213.6 C1841.8,1215.9 1841.9,1218.2 1842.0,1220.5 C1842.1,1222.8 1842.2,1225.0 1842.3,1227.3 C1842.3,1229.5 1842.4,1231.8 1842.5,1234.0 C1842.6,1236.2 1842.7,1238.4 1842.8,1240.7 C1842.8,1242.9 1842.9,1245.0 1843.0,1247.2 C1843.1,1249.4 1843.2,1251.5 1843.3,1253.7 C1843.3,1255.8 1843.4,1258.0 1843.5,1260.1 C1843.6,1262.2 1843.7,1264.3 1843.8,1266.4 C1843.8,1268.4 1843.9,1270.5 1844.0,1272.5 C1844.1,1274.6 1844.2,1276.6 1844.3,1278.6 C1844.3,1280.6 1844.4,1282.6 1844.5,1284.6 C1844.6,1286.5 1844.7,1288.5 1844.8,1290.4 C1844.8,1292.3 1844.9,1294.3 1845.0,1296.1 C1845.1,1298.0 1845.2,1299.9 1845.3,1301.7 C1845.3,1303.6 1845.4,1305.4 1845.5,1307.2 C1845.6,1309.0 1845.7,1310.8 1845.8,1312.5 C1845.8,1314.2 1845.9,1316.3 1846.0,1317.6 C1846.0,1318.4 1846.1,1318.9 1846.1,1319.6 C1846.1,1320.3 1846.2,1320.9 1846.2,1321.6 C1846.2,1322.4 1846.3,1323.2 1846.3,1324.0 C1846.4,1324.8 1846.4,1325.6 1846.4,1326.3 C1846.5,1327.1 1846.5,1327.9 1846.6,1328.6 C1846.6,1329.4 1846.6,1330.2 1846.7,1330.9 C1846.7,1331.7 1846.8,1332.4 1846.8,1333.1 C1846.8,1333.9 1846.9,1334.6 1846.9,1335.3 C1847.0,1336.1 1847.0,1336.8 1847.0,1337.5 C1847.1,1338.2 1847.1,1338.9 1847.2,1339.6 C1847.2,1340.3 1847.2,1341.0 1847.3,1341.7 C1847.3,1342.4 1847.4,1343.0 1847.4,1343.7 C1847.4,1344.5 1847.5,1345.3 1847.5,1346.0 C1847.6,1346.8 1847.6,1347.6 1847.7,1348.3 C1847.7,1349.1 1847.8,1349.8 1847.8,1350.5 C1847.9,1351.2 1847.9,1352.0 1848.0,1352.7 C1848.0,1353.4 1848.1,1354.1 1848.1,1354.8 C1848.1,1355.4 1848.2,1356.1 1848.2,1356.8 C1848.3,1357.5 1848.3,1358.3 1848.4,1359.0 C1848.5,1359.8 1848.5,1360.5 1848.6,1361.2 C1848.6,1361.9 1848.7,1362.6 1848.7,1363.3 C1848.8,1364.0 1848.8,1364.6 1848.9,1365.3 C1848.9,1366.0 1849.0,1366.7 1849.1,1367.4 C1849.1,1368.1 1849.2,1368.8 1849.2,1369.5 C1849.3,1370.2 1849.4,1370.9 1849.4,1371.6 C1849.5,1372.3 1849.6,1373.0 1849.6,1373.6 C1849.7,1374.3 1849.8,1375.0 1849.9,1375.7 C1849.9,1376.3 1850.0,1377.0 1850.1,1377.7 C1850.2,1378.4 1850.3,1379.1 1850.4,1379.8 C1850.5,1380.5 1850.6,1381.1 1850.7,1381.8 C1850.8,1382.5 1850.9,1383.1 1851.1,1383.8 C1851.3,1384.4 1851.6,1385.4 1851.8,1385.6 C1851.9,1385.7 1851.9,1385.7 1852.0,1385.7 C1852.2,1385.7 1852.9,1384.8 1853.1,1384.2 C1853.4,1383.6 1853.5,1382.9 1853.7,1382.3 C1853.9,1381.6 1854.0,1380.9 1854.1,1380.2 C1854.3,1379.6 1854.4,1378.9 1854.5,1378.2 C1854.6,1377.5 1854.7,1376.8 1854.8,1376.2 C1854.9,1375.5 1855.0,1374.8 1855.1,1374.2 C1855.2,1373.5 1855.3,1372.8 1855.4,1372.1 C1855.4,1371.5 1855.5,1370.8 1855.6,1370.2 C1855.7,1369.5 1855.8,1368.7 1855.8,1368.0 C1855.9,1367.3 1856.0,1366.7 1856.1,1366.0 C1856.1,1365.2 1856.2,1364.5 1856.3,1363.8 C1856.3,1363.1 1856.4,1362.4 1856.5,1361.7 C1856.5,1361.0 1856.6,1360.3 1856.7,1359.6 C1856.7,1358.9 1856.8,1358.2 1856.9,1357.5 C1856.9,1356.9 1857.0,1356.2 1857.0,1355.5 C1857.1,1354.7 1857.2,1354.0 1857.2,1353.3 C1857.3,1352.6 1857.3,1351.8 1857.4,1351.1 C1857.5,1350.4 1857.5,1349.7 1857.6,1349.0 C1857.6,1348.4 1857.7,1347.7 1857.7,1347.0 C1857.8,1346.3 1857.8,1345.7 1857.9,1344.8 C1858.0,1343.5 1858.1,1341.3 1858.2,1339.7 C1858.3,1338.4 1858.4,1337.3 1858.5,1336.1 C1858.6,1334.9 1858.7,1333.6 1858.7,1332.4 C1858.8,1331.1 1858.9,1329.8 1859.0,1328.5 C1859.1,1327.2 1859.2,1325.8 1859.2,1324.5 C1859.3,1323.1 1859.4,1321.8 1859.5,1320.4 C1859.6,1319.0 1859.7,1317.6 1859.7,1316.2 C1859.8,1314.7 1859.9,1313.3 1860.0,1311.9 C1860.1,1310.4 1860.2,1308.9 1860.2,1307.4 C1860.3,1305.9 1860.4,1304.4 1860.5,1302.9 C1860.6,1301.3 1860.7,1299.8 1860.7,1298.2 C1860.8,1296.7 1860.9,1295.1 1861.0,1293.5 C1861.1,1291.9 1861.2,1290.3 1861.2,1288.6 C1861.3,1287.0 1861.4,1285.4 1861.5,1283.7 C1861.6,1282.0 1861.7,1280.3 1861.7,1278.7 C1861.8,1277.0 1861.9,1275.3 1862.0,1273.5 C1862.1,1271.8 1862.2,1270.1 1862.2,1268.3 C1862.3,1266.6 1862.4,1264.8 1862.5,1263.0 C1862.6,1261.2 1862.7,1259.4 1862.7,1257.6 C1862.8,1255.8 1862.9,1254.0 1863.0,1252.2 C1863.1,1250.4 1863.2,1248.5 1863.2,1246.7 C1863.3,1244.8 1863.4,1242.9 1863.5,1241.0 C1863.6,1239.2 1863.7,1237.3 1863.7,1235.4 C1863.8,1233.5 1863.9,1231.5 1864.0,1229.6 C1864.1,1227.7 1864.2,1225.7 1864.2,1223.8 C1864.3,1221.9 1864.4,1219.9 1864.5,1217.9 C1864.6,1216.0 1864.7,1214.0 1864.7,1212.0 C1864.8,1210.0 1864.9,1208.0 1865.0,1206.0 C1865.1,1204.0 1865.2,1202.0 1865.2,1200.0 C1865.3,1197.9 1865.4,1195.9 1865.5,1193.9 C1865.6,1191.8 1865.7,1189.8 1865.7,1187.7 C1865.8,1185.7 1865.9,1183.6 1866.0,1181.5 C1866.1,1179.5 1866.2,1177.4 1866.2,1175.3 C1866.3,1173.2 1866.4,1171.1 1866.5,1169.0 C1866.6,1166.9 1866.7,1164.8 1866.7,1162.7 C1866.8,1160.6 1866.9,1158.5 1867.0,1156.4 C1867.1,1154.3 1867.2,1152.2 1867.2,1150.0 C1867.3,1147.9 1867.4,1145.8 1867.5,1143.6 C1867.6,1141.5 1867.7,1139.4 1867.7,1137.2 C1867.8,1135.1 1867.9,1132.9 1868.0,1130.8 C1868.1,1128.6 1868.2,1126.5 1868.2,1124.3 C1868.3,1122.2 1868.4,1120.0 1868.5,1117.8 C1868.6,1115.7 1868.7,1113.5 1868.7,1111.3 C1868.8,1109.2 1868.9,1107.0 1869.0,1104.8 C1869.1,1102.7 1869.2,1100.5 1869.2,1098.3 C1869.3,1096.2 1869.4,1094.0 1869.5,1091.8 C1869.6,1089.6 1869.7,1087.5 1869.7,1085.3 C1869.8,1083.1 1869.9,1080.9 1870.0,1078.8 C1870.1,1076.6 1870.2,1074.4 1870.2,1072.2 C1870.3,1070.1 1870.4,1067.9 1870.5,1065.7 C1870.6,1063.5 1870.7,1061.4 1870.7,1059.2 C1870.8,1057.0 1870.9,1054.9 1871.0,1052.7 C1871.1,1050.5 1871.2,1048.4 1871.2,1046.2 C1871.3,1044.0 1871.4,1041.9 1871.5,1039.7 C1871.6,1037.6 1871.7,1035.4 1871.7,1033.2 C1871.8,1031.1 1871.9,1028.9 1872.0,1026.8 C1872.1,1024.6 1872.2,1022.5 1872.2,1020.4 C1872.3,1018.2 1872.4,1016.1 1872.5,1014.0 C1872.6,1011.8 1872.7,1009.7 1872.7,1007.6 C1872.8,1005.4 1872.9,1003.3 1873.0,1001.2 C1873.1,999.1 1873.2,997.0 1873.2,994.9 C1873.3,992.8 1873.4,990.7 1873.5,988.6 C1873.6,986.5 1873.7,984.4 1873.7,982.3 C1873.8,980.2 1873.9,978.1 1874.0,976.0 C1874.1,974.0 1874.1,971.9 1874.2,969.8 C1874.3,967.8 1874.4,965.7 1874.5,963.7 C1874.6,961.6 1874.6,959.6 1874.7,957.5 C1874.8,955.5 1874.9,953.5 1875.0,951.4 C1875.1,949.4 1875.1,947.4 1875.2,945.4 C1875.3,943.4 1875.4,941.4 1875.5,939.4 C1875.6,937.4 1875.6,935.4 1875.7,933.4 C1875.8,931.4 1875.9,929.5 1876.0,927.5 C1876.1,925.5 1876.1,923.6 1876.2,921.6 C1876.3,919.7 1876.4,917.7 1876.5,915.8 C1876.6,913.9 1876.6,911.9 1876.7,910.0 C1876.8,908.1 1876.9,906.2 1877.0,904.3 C1877.1,902.4 1877.1,900.5 1877.2,898.6 C1877.3,896.7 1877.4,894.9 1877.5,893.0 C1877.6,891.1 1877.6,889.3 1877.7,887.4 C1877.8,885.6 1877.9,883.7 1878.0,881.9 C1878.1,880.1 1878.1,878.2 1878.2,876.4 C1878.3,874.6 1878.4,872.8 1878.5,871.0 C1878.6,869.2 1878.6,867.4 1878.7,865.7 C1878.8,863.9 1878.9,862.1 1879.0,860.4 C1879.1,858.6 1879.1,856.9 1879.2,855.1 C1879.3,853.4 1879.4,851.7 1879.5,850.0 C1879.6,848.2 1879.6,846.5 1879.7,844.8 C1879.8,843.1 1879.9,841.5 1880.0,839.8 C1880.1,838.1 1880.1,836.4 1880.2,834.8 C1880.3,833.1 1880.4,831.5 1880.5,829.8 C1880.6,828.2 1880.6,826.6 1880.7,825.0 C1880.8,823.3 1880.9,821.7 1881.0,820.1 C1881.1,818.5 1881.1,817.0 1881.2,815.4 C1881.3,813.8 1881.4,812.3 1881.5,810.7 C1881.6,809.1 1881.6,807.6 1881.7,806.1 C1881.8,804.5 1881.9,803.0 1882.0,801.5 C1882.1,800.0 1882.1,798.5 1882.2,797.0 C1882.3,795.5 1882.4,794.0 1882.5,792.5 C1882.6,791.1 1882.6,789.6 1882.7,788.2 C1882.8,786.7 1882.9,785.3 1883.0,783.8 C1883.1,782.4 1883.1,781.0 1883.2,779.6 C1883.3,778.2 1883.4,776.8 1883.5,775.4 C1883.6,774.0 1883.6,772.6 1883.7,771.3 C1883.8,769.9 1883.9,768.5 1884.0,767.2 C1884.1,765.9 1884.1,764.5 1884.2,763.2 C1884.3,761.9 1884.4,760.6 1884.5,759.3 C1884.6,758.0 1884.6,756.7 1884.7,755.4 C1884.8,754.1 1884.9,752.8 1885.0,751.6 C1885.1,750.3 1885.1,749.0 1885.2,747.8 C1885.3,746.6 1885.4,745.3 1885.5,744.1 C1885.6,742.9 1885.6,741.7 1885.7,740.5 C1885.8,739.3 1885.9,738.1 1886.0,736.9 C1886.1,735.7 1886.1,734.6 1886.2,733.4 C1886.3,732.2 1886.4,731.1 1886.5,729.9 C1886.6,728.8 1886.6,727.7 1886.7,726.5 C1886.8,725.4 1886.9,724.3 1887.0,723.2 C1887.1,722.1 1887.1,721.0 1887.2,719.9 C1887.3,718.9 1887.4,717.8 1887.5,716.7 C1887.6,715.7 1887.6,714.6 1887.7,713.6 C1887.8,712.5 1887.9,711.5 1888.0,710.5 C1888.1,709.5 1888.1,708.4 1888.2,707.4 C1888.3,706.4 1888.4,705.4 1888.5,704.5 C1888.6,703.5 1888.6,702.5 1888.7,701.5 C1888.8,700.6 1888.9,699.6 1889.0,698.6 C1889.1,697.7 1889.1,696.8 1889.2,695.8 C1889.3,694.9 1889.4,694.0 1889.5,693.1 C1889.6,692.2 1889.6,691.3 1889.7,690.4 C1889.8,689.5 1889.9,688.6 1890.0,687.7 C1890.1,686.8 1890.1,686.0 1890.2,685.1 C1890.3,684.2 1890.4,683.4 1890.5,682.6 C1890.6,681.7 1890.6,680.9 1890.7,680.1 C1890.8,679.2 1890.9,678.4 1891.0,677.6 C1891.1,676.8 1891.1,676.0 1891.2,675.2 C1891.3,674.4 1891.4,673.6 1891.5,672.9 C1891.6,672.1 1891.6,671.3 1891.7,670.6 C1891.8,669.8 1891.9,669.1 1892.0,668.3 C1892.1,667.6 1892.1,666.8 1892.2,666.1 C1892.3,665.4 1892.4,664.7 1892.5,663.9 C1892.6,663.2 1892.6,662.5 1892.7,661.8 C1892.8,661.1 1892.9,660.5 1893.0,659.8 C1893.1,659.1 1893.1,658.5 1893.2,657.8 C1893.4,656.7 1893.6,655.1 1893.7,653.8 C1893.9,652.6 1894.0,651.3 1894.2,650.1 C1894.4,648.9 1894.5,647.7 1894.7,646.5 C1894.9,645.4 1895.0,644.3 1895.2,643.1 C1895.4,642.0 1895.5,641.0 1895.7,639.9 C1895.9,638.8 1896.0,637.8 1896.2,636.8 C1896.4,635.8 1896.5,634.8 1896.7,633.8 C1896.9,632.9 1897.0,631.9 1897.2,631.0 C1897.4,630.1 1897.5,629.2 1897.7,628.3 C1897.9,627.5 1898.0,626.6 1898.2,625.8 C1898.4,625.0 1898.5,624.2 1898.7,623.4 C1898.9,622.6 1899.0,621.8 1899.2,621.1 C1899.4,620.3 1899.5,619.6 1899.7,618.9 C1899.9,618.2 1900.0,617.5 1900.2,616.8 C1900.4,616.1 1900.5,615.5 1900.7,614.8 C1900.9,614.0 1901.2,613.0 1901.5,612.0 C1901.7,611.2 1902.0,610.3 1902.2,609.5 C1902.5,608.7 1902.7,607.9 1903.0,607.1 C1903.2,606.4 1903.5,605.7 1903.7,605.0 C1904.0,604.3 1904.2,603.7 1904.5,603.0 C1904.8,602.2 1905.1,601.3 1905.5,600.6 C1905.8,599.8 1906.1,599.1 1906.5,598.4 C1906.8,597.7 1907.1,597.1 1907.5,596.5 C1907.8,595.8 1908.3,595.1 1908.7,594.4 C1909.1,593.8 1909.5,593.2 1910.0,592.6 C1910.4,592.0 1910.9,591.3 1911.5,590.7 C1911.9,590.2 1912.4,589.7 1913.0,589.2 C1913.5,588.7 1914.1,588.2 1914.7,587.8 C1915.3,587.3 1915.8,587.0 1916.5,586.6 C1917.1,586.2 1918.1,585.7 1918.5,585.6 C1918.6,585.5 1918.6,585.5 1918.7,585.5"/>
<path stroke="#009500" d="M352.6,621.8 C353.4,621.8 353.8,621.8 355.0,621.7 C358.3,621.5 368.3,621.1 373.8,619.9 C378.3,618.9 381.1,617.6 385.7,615.7 C392.3,612.9 401.6,607.9 409.5,603.8 C417.5,599.6 425.4,595.2 433.3,590.7 C441.3,586.1 449.2,581.2 457.1,576.4 C465.1,571.6 473.0,566.9 481.0,562.1 C488.9,557.4 496.9,552.8 504.8,547.9 C512.8,542.9 520.6,537.4 528.6,532.4 C536.5,527.5 544.5,522.9 552.4,518.1 C560.3,513.3 568.2,508.2 576.2,503.8 C584.1,499.5 592.4,495.4 600.0,491.9 C606.9,488.7 613.0,486.2 620.0,483.5 C627.4,480.6 634.6,477.7 643.3,475.2 C653.8,472.2 667.1,469.7 679.0,467.5 C690.9,465.3 702.8,463.3 714.8,462.1 C726.7,460.9 738.6,460.6 750.5,460.4 C762.4,460.2 773.7,460.8 786.2,461.0 C800.1,461.2 812.4,461.2 830.0,461.5 C856.6,462.0 894.5,463.2 930.0,464.3 C970.5,465.6 1016.7,467.5 1060.0,468.8 C1103.3,470.1 1146.7,471.3 1190.0,472.3 C1233.3,473.3 1275.9,474.1 1320.0,475.0 C1365.8,475.9 1413.3,476.8 1460.0,477.5 C1506.7,478.2 1555.1,478.8 1600.0,479.3 C1641.5,479.8 1684.0,480.1 1720.0,480.5 C1749.4,480.8 1770.7,481.1 1800.0,481.3 C1835.9,481.6 1879.7,481.6 1919.5,481.8"/>
</g>
<text transform="translate(322.0 1551.0) scale(1.1390 1)" font-size="66.0" text-anchor="end">−400</text>
<text transform="translate(322.0 1325.9) scale(1.1390 1)" font-size="66.0" text-anchor="end">−300</text>
<text transform="translate(322.0 1100.8) scale(1.1390 1)" font-size="66.0" text-anchor="end">−200</text>
<text transform="translate(322.0 875.8) scale(1.1390 1)" font-size="66.0" text-anchor="end">−100</text>
<text transform="translate(322.0 650.7) scale(1.1390 1)" font-size="66.0" text-anchor="end">0</text>
<text transform="translate(322.0 425.6) scale(1.1390 1)" font-size="66.0" text-anchor="end">100</text>
<text transform="translate(322.0 200.5) scale(1.1390 1)" font-size="66.0" text-anchor="end">200</text>
<text transform="translate(355.0 1730.0) scale(1.1390 1)" font-size="66.0" text-anchor="middle" dx="0 -9 9">0.0</text>
<text transform="translate(745.6 1730.0) scale(1.1390 1)" font-size="66.0" text-anchor="middle" dx="0 -9 9">0.5</text>
<text transform="translate(1136.2 1730.0) scale(1.1390 1)" font-size="66.0" text-anchor="middle" dx="0 -9 9">1.0</text>
<text transform="translate(1526.8 1730.0) scale(1.1390 1)" font-size="66.0" text-anchor="middle" dx="0 -9 9">1.5</text>
<text transform="translate(1917.4 1730.0) scale(1.1390 1)" font-size="66.0" text-anchor="middle" dx="0 -9 9">2.0</text>
<text transform="translate(2308.0 1730.0) scale(1.1390 1)" font-size="66.0" text-anchor="middle" dx="0 -9 9">2.5</text>
<text transform="translate(1331.5 1829.5) scale(1.1550 1)" font-size="66.5" text-anchor="middle">Time(ms)</text>
<text transform="translate(144 848) rotate(-90) scale(1.182 1)" font-size="70" text-anchor="middle">Armature electromagnetic force(kN)</text>
<g fill="none"><line x1="796.8" y1="85.2" x2="2277.4" y2="85.2" stroke="#b2b2b2" stroke-width="5"/><line x1="2274.9" y1="82.7" x2="2274.9" y2="425.5" stroke="#ababab" stroke-width="5"/><line x1="796.8" y1="423.3" x2="2277.4" y2="423.3" stroke="#9a9a9a" stroke-width="4.6"/><line x1="798.3" y1="82.7" x2="798.3" y2="425.5" stroke="#6e6e6e" stroke-width="3"/></g>
<line x1="806" y1="133.0" x2="958.6" y2="133.0" stroke="#000" stroke-width="7"/>
<text transform="translate(2267.6 158.8) scale(1.1450 1)" font-size="65.5" text-anchor="end">Standard armature conductivity</text>
<line x1="806" y1="213.3" x2="958.6" y2="213.3" stroke="#ff0000" stroke-width="7"/>
<text transform="translate(2267.6 239.1) scale(1.1450 1)" font-size="65.5" text-anchor="end">80% standard armature conductivity</text>
<line x1="806" y1="295.7" x2="958.6" y2="295.7" stroke="#0000ff" stroke-width="7"/>
<text transform="translate(2267.6 321.5) scale(1.1450 1)" font-size="65.5" text-anchor="end">60% standard armature conductivity</text>
<line x1="806" y1="376.8" x2="958.6" y2="376.8" stroke="#009500" stroke-width="7"/>
<text transform="translate(2267.6 402.6) scale(1.1450 1)" font-size="65.5" text-anchor="end">40% standard armature conductivity</text>
</svg>
</body></html>
